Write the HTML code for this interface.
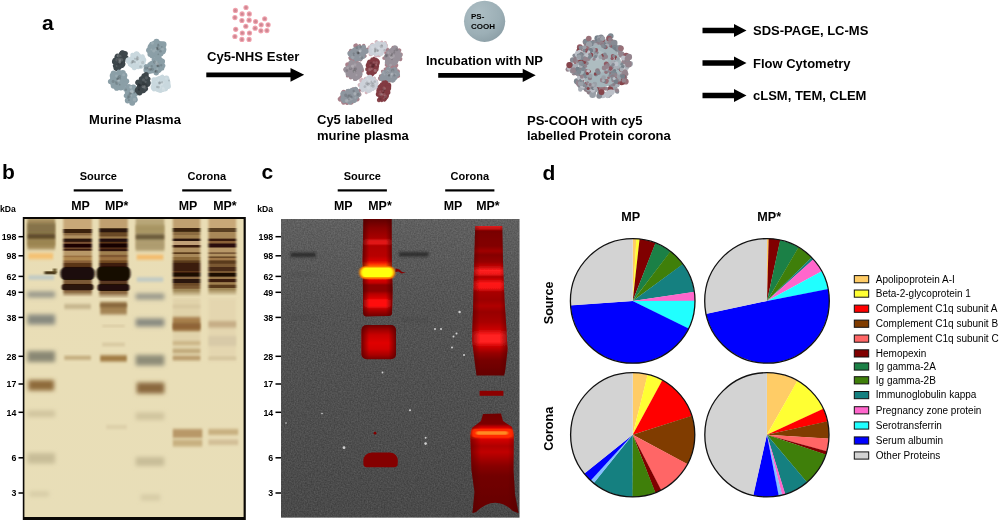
<!DOCTYPE html>
<html lang="en"><head><meta charset="utf-8"><title>Figure</title>
<style>
html,body{margin:0;padding:0;background:#fff;}
svg{display:block;}
text{font-family:"Liberation Sans", Arial, sans-serif;fill:#000;}
</style></head><body>
<svg width="1000" height="520" viewBox="0 0 1000 520">

<defs>
<linearGradient id="lg1" gradientUnits="userSpaceOnUse" x1="0" y1="218" x2="0" y2="297"><stop offset="0.0000" stop-color="#c8a878" stop-opacity="1"/><stop offset="0.1335" stop-color="#c8a878" stop-opacity="1"/><stop offset="0.1449" stop-color="#3a2010" stop-opacity="1"/><stop offset="0.1842" stop-color="#3a2010" stop-opacity="1"/><stop offset="0.1956" stop-color="#8a6840" stop-opacity="1"/><stop offset="0.2146" stop-color="#8a6840" stop-opacity="1"/><stop offset="0.2259" stop-color="#b09060" stop-opacity="1"/><stop offset="0.2551" stop-color="#b09060" stop-opacity="1"/><stop offset="0.2665" stop-color="#2c1408" stop-opacity="1"/><stop offset="0.2956" stop-color="#2c1408" stop-opacity="1"/><stop offset="0.3070" stop-color="#7a5030" stop-opacity="1"/><stop offset="0.3209" stop-color="#7a5030" stop-opacity="1"/><stop offset="0.3323" stop-color="#1a0606" stop-opacity="1"/><stop offset="0.3677" stop-color="#1a0606" stop-opacity="1"/><stop offset="0.3791" stop-color="#7a5030" stop-opacity="1"/><stop offset="0.3842" stop-color="#7a5030" stop-opacity="1"/><stop offset="0.3956" stop-color="#3a1c0c" stop-opacity="1"/><stop offset="0.4082" stop-color="#3a1c0c" stop-opacity="1"/><stop offset="0.4196" stop-color="#b89868" stop-opacity="1"/><stop offset="0.4703" stop-color="#b89868" stop-opacity="1"/><stop offset="0.4816" stop-color="#9a7040" stop-opacity="1"/><stop offset="0.4905" stop-color="#9a7040" stop-opacity="1"/><stop offset="0.5019" stop-color="#b08850" stop-opacity="1"/><stop offset="0.5310" stop-color="#b08850" stop-opacity="1"/><stop offset="0.5424" stop-color="#8a6038" stop-opacity="1"/><stop offset="0.5627" stop-color="#8a6038" stop-opacity="1"/><stop offset="0.5741" stop-color="#5a3418" stop-opacity="1"/><stop offset="0.6133" stop-color="#5a3418" stop-opacity="1"/><stop offset="0.6247" stop-color="#2c1208" stop-opacity="1"/><stop offset="0.6639" stop-color="#2c1208" stop-opacity="1"/><stop offset="0.6753" stop-color="#1a0a08" stop-opacity="1"/><stop offset="0.7766" stop-color="#1a0a08" stop-opacity="1"/><stop offset="0.7880" stop-color="#7a5834" stop-opacity="1"/><stop offset="0.8285" stop-color="#7a5834" stop-opacity="1"/><stop offset="0.8399" stop-color="#2c1408" stop-opacity="1"/><stop offset="0.9095" stop-color="#2c1408" stop-opacity="1"/><stop offset="0.9209" stop-color="#8a6840" stop-opacity="1"/><stop offset="0.9373" stop-color="#8a6840" stop-opacity="1"/><stop offset="1.0000" stop-color="#8a6840" stop-opacity="0"/></linearGradient>
<linearGradient id="lg2" gradientUnits="userSpaceOnUse" x1="0" y1="218" x2="0" y2="298.5"><stop offset="0.0000" stop-color="#c0a070" stop-opacity="1"/><stop offset="0.1224" stop-color="#c0a070" stop-opacity="1"/><stop offset="0.1335" stop-color="#2a1808" stop-opacity="1"/><stop offset="0.1720" stop-color="#2a1808" stop-opacity="1"/><stop offset="0.1832" stop-color="#6a4828" stop-opacity="1"/><stop offset="0.2230" stop-color="#6a4828" stop-opacity="1"/><stop offset="0.2342" stop-color="#9a7848" stop-opacity="1"/><stop offset="0.2503" stop-color="#9a7848" stop-opacity="1"/><stop offset="0.2615" stop-color="#20100a" stop-opacity="1"/><stop offset="0.2901" stop-color="#20100a" stop-opacity="1"/><stop offset="0.3012" stop-color="#5a3018" stop-opacity="1"/><stop offset="0.3112" stop-color="#5a3018" stop-opacity="1"/><stop offset="0.3224" stop-color="#180606" stop-opacity="1"/><stop offset="0.3609" stop-color="#180606" stop-opacity="1"/><stop offset="0.3720" stop-color="#5a3018" stop-opacity="1"/><stop offset="0.3770" stop-color="#5a3018" stop-opacity="1"/><stop offset="0.3882" stop-color="#30140a" stop-opacity="1"/><stop offset="0.4068" stop-color="#30140a" stop-opacity="1"/><stop offset="0.4180" stop-color="#a08050" stop-opacity="1"/><stop offset="0.4516" stop-color="#a08050" stop-opacity="1"/><stop offset="0.4627" stop-color="#805830" stop-opacity="1"/><stop offset="0.4814" stop-color="#805830" stop-opacity="1"/><stop offset="0.4925" stop-color="#9a7040" stop-opacity="1"/><stop offset="0.5211" stop-color="#9a7040" stop-opacity="1"/><stop offset="0.5323" stop-color="#704820" stop-opacity="1"/><stop offset="0.5522" stop-color="#704820" stop-opacity="1"/><stop offset="0.5634" stop-color="#3e1e0e" stop-opacity="1"/><stop offset="0.6019" stop-color="#3e1e0e" stop-opacity="1"/><stop offset="0.6130" stop-color="#160806" stop-opacity="1"/><stop offset="0.7720" stop-color="#160806" stop-opacity="1"/><stop offset="0.7832" stop-color="#5a3820" stop-opacity="1"/><stop offset="0.8130" stop-color="#5a3820" stop-opacity="1"/><stop offset="0.8242" stop-color="#201008" stop-opacity="1"/><stop offset="0.9012" stop-color="#201008" stop-opacity="1"/><stop offset="0.9124" stop-color="#8a6840" stop-opacity="1"/><stop offset="0.9323" stop-color="#8a6840" stop-opacity="1"/><stop offset="1.0000" stop-color="#8a6840" stop-opacity="0"/></linearGradient>
<linearGradient id="lg4" gradientUnits="userSpaceOnUse" x1="0" y1="218" x2="0" y2="297"><stop offset="0.0000" stop-color="#c0a070" stop-opacity="1"/><stop offset="0.1209" stop-color="#c0a070" stop-opacity="1"/><stop offset="0.1323" stop-color="#3a2410" stop-opacity="1"/><stop offset="0.1690" stop-color="#3a2410" stop-opacity="1"/><stop offset="0.1804" stop-color="#8a6a40" stop-opacity="1"/><stop offset="0.2095" stop-color="#8a6a40" stop-opacity="1"/><stop offset="0.2209" stop-color="#a08050" stop-opacity="1"/><stop offset="0.2551" stop-color="#a08050" stop-opacity="1"/><stop offset="0.2665" stop-color="#2a1208" stop-opacity="1"/><stop offset="0.2854" stop-color="#2a1208" stop-opacity="1"/><stop offset="0.2968" stop-color="#c0a078" stop-opacity="1"/><stop offset="0.3361" stop-color="#c0a078" stop-opacity="1"/><stop offset="0.3475" stop-color="#3a1c0c" stop-opacity="1"/><stop offset="0.3677" stop-color="#3a1c0c" stop-opacity="1"/><stop offset="0.3791" stop-color="#b09060" stop-opacity="1"/><stop offset="0.4285" stop-color="#b09060" stop-opacity="1"/><stop offset="0.4399" stop-color="#5a3a1c" stop-opacity="1"/><stop offset="0.4500" stop-color="#5a3a1c" stop-opacity="1"/><stop offset="0.4614" stop-color="#a88858" stop-opacity="1"/><stop offset="0.4880" stop-color="#a88858" stop-opacity="1"/><stop offset="0.4994" stop-color="#8a6838" stop-opacity="1"/><stop offset="0.5310" stop-color="#8a6838" stop-opacity="1"/><stop offset="0.5424" stop-color="#5a3a1c" stop-opacity="1"/><stop offset="0.5614" stop-color="#5a3a1c" stop-opacity="1"/><stop offset="0.5728" stop-color="#3a1e0c" stop-opacity="1"/><stop offset="0.6652" stop-color="#3a1e0c" stop-opacity="1"/><stop offset="0.6766" stop-color="#5a3418" stop-opacity="1"/><stop offset="0.6842" stop-color="#5a3418" stop-opacity="1"/><stop offset="0.6956" stop-color="#1e0a06" stop-opacity="1"/><stop offset="0.7361" stop-color="#1e0a06" stop-opacity="1"/><stop offset="0.7475" stop-color="#8a6840" stop-opacity="1"/><stop offset="0.7665" stop-color="#8a6840" stop-opacity="1"/><stop offset="0.7778" stop-color="#2c1408" stop-opacity="1"/><stop offset="0.8171" stop-color="#2c1408" stop-opacity="1"/><stop offset="0.8285" stop-color="#6a4828" stop-opacity="1"/><stop offset="0.8487" stop-color="#6a4828" stop-opacity="1"/><stop offset="0.8601" stop-color="#7a5830" stop-opacity="1"/><stop offset="0.8892" stop-color="#7a5830" stop-opacity="1"/><stop offset="0.9006" stop-color="#a08858" stop-opacity="1"/><stop offset="0.9184" stop-color="#a08858" stop-opacity="1"/><stop offset="1.0000" stop-color="#a08858" stop-opacity="0"/></linearGradient>
<linearGradient id="lg5" gradientUnits="userSpaceOnUse" x1="0" y1="218" x2="0" y2="296"><stop offset="0.0000" stop-color="#c8a878" stop-opacity="1"/><stop offset="0.1224" stop-color="#c8a878" stop-opacity="1"/><stop offset="0.1340" stop-color="#5a4020" stop-opacity="1"/><stop offset="0.1737" stop-color="#5a4020" stop-opacity="1"/><stop offset="0.1853" stop-color="#a88858" stop-opacity="1"/><stop offset="0.2583" stop-color="#a88858" stop-opacity="1"/><stop offset="0.2699" stop-color="#3a1c0c" stop-opacity="1"/><stop offset="0.2891" stop-color="#3a1c0c" stop-opacity="1"/><stop offset="0.3006" stop-color="#8a6038" stop-opacity="1"/><stop offset="0.3212" stop-color="#8a6038" stop-opacity="1"/><stop offset="0.3327" stop-color="#2a0e08" stop-opacity="1"/><stop offset="0.3724" stop-color="#2a0e08" stop-opacity="1"/><stop offset="0.3840" stop-color="#b89868" stop-opacity="1"/><stop offset="0.4340" stop-color="#b89868" stop-opacity="1"/><stop offset="0.4455" stop-color="#7a5a38" stop-opacity="1"/><stop offset="0.4558" stop-color="#7a5a38" stop-opacity="1"/><stop offset="0.4673" stop-color="#b09060" stop-opacity="1"/><stop offset="0.4865" stop-color="#b09060" stop-opacity="1"/><stop offset="0.4981" stop-color="#6a4a28" stop-opacity="1"/><stop offset="0.5071" stop-color="#6a4a28" stop-opacity="1"/><stop offset="0.5186" stop-color="#a07848" stop-opacity="1"/><stop offset="0.5378" stop-color="#a07848" stop-opacity="1"/><stop offset="0.5494" stop-color="#5a3a1c" stop-opacity="1"/><stop offset="0.5801" stop-color="#5a3a1c" stop-opacity="1"/><stop offset="0.5917" stop-color="#7a5830" stop-opacity="1"/><stop offset="0.6224" stop-color="#7a5830" stop-opacity="1"/><stop offset="0.6340" stop-color="#4a2a14" stop-opacity="1"/><stop offset="0.6737" stop-color="#4a2a14" stop-opacity="1"/><stop offset="0.6853" stop-color="#7a5830" stop-opacity="1"/><stop offset="0.6981" stop-color="#7a5830" stop-opacity="1"/><stop offset="0.7096" stop-color="#1e0a06" stop-opacity="1"/><stop offset="0.7455" stop-color="#1e0a06" stop-opacity="1"/><stop offset="0.7571" stop-color="#9a7848" stop-opacity="1"/><stop offset="0.7763" stop-color="#9a7848" stop-opacity="1"/><stop offset="0.7878" stop-color="#3a1c0c" stop-opacity="1"/><stop offset="0.8173" stop-color="#3a1c0c" stop-opacity="1"/><stop offset="0.8288" stop-color="#a08050" stop-opacity="1"/><stop offset="0.8494" stop-color="#a08050" stop-opacity="1"/><stop offset="0.8609" stop-color="#5a3a1c" stop-opacity="1"/><stop offset="0.8917" stop-color="#5a3a1c" stop-opacity="1"/><stop offset="0.9032" stop-color="#a08858" stop-opacity="1"/><stop offset="0.9173" stop-color="#a08858" stop-opacity="1"/><stop offset="1.0000" stop-color="#a08858" stop-opacity="0"/></linearGradient>
<filter id="glane" x="-20%" y="-5%" width="140%" height="110%"><feGaussianBlur stdDeviation="1.2 0.75"/></filter>
<filter id="pb" x="-5%" y="-5%" width="110%" height="110%"><feGaussianBlur stdDeviation="0.5"/></filter>
<filter id="pb2" x="-5%" y="-5%" width="110%" height="110%"><feGaussianBlur stdDeviation="0.7"/></filter>
<filter id="gb" x="-20%" y="-50%" width="140%" height="200%"><feGaussianBlur stdDeviation="1.3 1.5"/></filter>
<filter id="glad" x="-30%" y="-80%" width="160%" height="260%"><feGaussianBlur stdDeviation="2.2 2.2"/></filter>
<filter id="sp" x="-50%" y="-50%" width="200%" height="200%"><feGaussianBlur stdDeviation="0.45"/></filter>
<filter id="gbs" x="-20%" y="-60%" width="140%" height="220%"><feGaussianBlur stdDeviation="0.9 0.7"/></filter>
<filter id="gbr" x="-5%" y="-5%" width="110%" height="110%"><feGaussianBlur stdDeviation="0.5"/></filter>
<filter id="noise" x="0" y="0" width="100%" height="100%" color-interpolation-filters="sRGB"><feTurbulence type="fractalNoise" baseFrequency="0.7" numOctaves="2" seed="3" result="n"/><feColorMatrix type="matrix" values="1 0 0 0 0  1 0 0 0 0  1 0 0 0 0  0 0 0 0 0.15"/></filter>
<radialGradient id="sph" cx="0.36" cy="0.3" r="0.85"><stop offset="0" stop-color="#adbec4"/><stop offset="0.6" stop-color="#9cafb6"/><stop offset="1" stop-color="#8699a1"/></radialGradient>
<linearGradient id="gelbg" x1="0" y1="0" x2="0" y2="1"><stop offset="0" stop-color="#e9ddb5"/><stop offset="0.5" stop-color="#e9deb7"/><stop offset="1" stop-color="#e8deb8"/></linearGradient>
<linearGradient id="gelcbg" x1="0" y1="0" x2="0" y2="1"><stop offset="0" stop-color="#5a5a5a"/><stop offset="0.3" stop-color="#4c4c4c"/><stop offset="1" stop-color="#404040"/></linearGradient>
<linearGradient id="vig" x1="0" y1="0" x2="1" y2="0"><stop offset="0" stop-color="#500000" stop-opacity="0.75"/><stop offset="0.22" stop-color="#500000" stop-opacity="0"/><stop offset="0.78" stop-color="#500000" stop-opacity="0"/><stop offset="1" stop-color="#500000" stop-opacity="0.75"/></linearGradient>
<clipPath id="clipb"><rect x="23.5" y="218" width="220.5" height="299.5"/></clipPath>
<clipPath id="clipc"><rect x="281" y="219" width="238.7" height="298.8"/></clipPath>
<linearGradient id="lane2a" gradientUnits="userSpaceOnUse" x1="0" y1="219" x2="0" y2="316.5"><stop offset="0.0000" stop-color="#600000"/><stop offset="0.0923" stop-color="#8a0000"/><stop offset="0.1949" stop-color="#a80000"/><stop offset="0.2256" stop-color="#e01818"/><stop offset="0.2513" stop-color="#e01818"/><stop offset="0.2769" stop-color="#b00000"/><stop offset="0.3795" stop-color="#b80000"/><stop offset="0.4308" stop-color="#d80000"/><stop offset="0.4615" stop-color="#ff3000"/><stop offset="0.4821" stop-color="#ff6000"/><stop offset="0.6154" stop-color="#ff4000"/><stop offset="0.6256" stop-color="#d80000"/><stop offset="0.6564" stop-color="#c00000"/><stop offset="0.6769" stop-color="#8c0000"/><stop offset="0.7385" stop-color="#8c0000"/><stop offset="0.7692" stop-color="#b80000"/><stop offset="0.8103" stop-color="#d80000"/><stop offset="0.8359" stop-color="#ff1010"/><stop offset="0.8923" stop-color="#ff1010"/><stop offset="0.9231" stop-color="#b80000"/><stop offset="0.9641" stop-color="#900000"/><stop offset="1.0000" stop-color="#700000"/></linearGradient>
<linearGradient id="lane2b" gradientUnits="userSpaceOnUse" x1="0" y1="325" x2="0" y2="359.2"><stop offset="0.0000" stop-color="#6c0000"/><stop offset="0.1170" stop-color="#980000"/><stop offset="0.2924" stop-color="#c80000"/><stop offset="0.5263" stop-color="#e00404"/><stop offset="0.7018" stop-color="#d40000"/><stop offset="0.8772" stop-color="#a80000"/><stop offset="1.0000" stop-color="#780000"/></linearGradient>
<linearGradient id="lane4a" gradientUnits="userSpaceOnUse" x1="0" y1="226" x2="0" y2="375.5"><stop offset="0.0000" stop-color="#e02020"/><stop offset="0.0201" stop-color="#c01010"/><stop offset="0.0334" stop-color="#780000"/><stop offset="0.0936" stop-color="#800000"/><stop offset="0.1338" stop-color="#820000"/><stop offset="0.1672" stop-color="#a00000"/><stop offset="0.1940" stop-color="#840000"/><stop offset="0.2408" stop-color="#960000"/><stop offset="0.2742" stop-color="#c80808"/><stop offset="0.2977" stop-color="#ff2020"/><stop offset="0.3211" stop-color="#f01818"/><stop offset="0.3411" stop-color="#b00000"/><stop offset="0.3645" stop-color="#d80808"/><stop offset="0.3846" stop-color="#ff1818"/><stop offset="0.4147" stop-color="#f81414"/><stop offset="0.4415" stop-color="#a80000"/><stop offset="0.4950" stop-color="#9c0000"/><stop offset="0.5351" stop-color="#b00000"/><stop offset="0.5753" stop-color="#980000"/><stop offset="0.6421" stop-color="#a80000"/><stop offset="0.6957" stop-color="#cc0404"/><stop offset="0.7291" stop-color="#ff2020"/><stop offset="0.7759" stop-color="#ff2020"/><stop offset="0.8094" stop-color="#c80000"/><stop offset="0.8495" stop-color="#980000"/><stop offset="0.8963" stop-color="#780000"/><stop offset="1.0000" stop-color="#640000"/></linearGradient>
<linearGradient id="lane4b" gradientUnits="userSpaceOnUse" x1="0" y1="413.5" x2="0" y2="513"><stop offset="0.0000" stop-color="#700000"/><stop offset="0.1055" stop-color="#7c0000"/><stop offset="0.1357" stop-color="#c80000"/><stop offset="0.1658" stop-color="#ff2000"/><stop offset="0.2362" stop-color="#ff2000"/><stop offset="0.2663" stop-color="#d00000"/><stop offset="0.3266" stop-color="#b00000"/><stop offset="0.3869" stop-color="#c00000"/><stop offset="0.4472" stop-color="#a80000"/><stop offset="0.5276" stop-color="#880000"/><stop offset="0.6281" stop-color="#720000"/><stop offset="1.0000" stop-color="#660000"/></linearGradient>
</defs>

<rect width="1000" height="520" fill="#fff"/>
<text x="42" y="29.5" font-size="21" font-weight="bold" text-anchor="start" >a</text>
<g filter="url(#pb)">
<g transform="translate(156.5 49) rotate(0)">
<ellipse cx="0" cy="0" rx="9.2" ry="8.8" fill="#8b9fa7"/>
<circle cx="6.8" cy="0.5" r="3.1" fill="#8b9fa7"/>
<circle cx="6.4" cy="2.3" r="2.9" fill="#8b9fa7"/>
<circle cx="4.2" cy="5.3" r="2.1" fill="#8b9fa7"/>
<circle cx="0.4" cy="7.4" r="2.4" fill="#8b9fa7"/>
<circle cx="-4.3" cy="6.8" r="2.6" fill="#8b9fa7"/>
<circle cx="-6.2" cy="5.1" r="2.9" fill="#8b9fa7"/>
<circle cx="-7.6" cy="1.2" r="2.8" fill="#8b9fa7"/>
<circle cx="-6.1" cy="-3.2" r="2.1" fill="#8b9fa7"/>
<circle cx="-4.9" cy="-5.2" r="2.1" fill="#8b9fa7"/>
<circle cx="-0.0" cy="-7.3" r="3.0" fill="#8b9fa7"/>
<circle cx="4.7" cy="-5.4" r="2.3" fill="#8b9fa7"/>
<circle cx="6.8" cy="-4.5" r="3.2" fill="#8b9fa7"/>
<circle cx="1.8" cy="-3.3" r="1.3" fill="#000" opacity="0.13"/>
<circle cx="1.7" cy="-4.4" r="1.0" fill="#000" opacity="0.13"/>
<circle cx="2.2" cy="-0.9" r="1.3" fill="#fff" opacity="0.13"/>
<circle cx="-0.4" cy="0.3" r="1.6" fill="#fff" opacity="0.13"/>
<circle cx="5.3" cy="-2.2" r="0.9" fill="#000" opacity="0.13"/>
<circle cx="0.5" cy="-1.0" r="1.3" fill="#000" opacity="0.13"/>
<circle cx="-2.8" cy="2.0" r="1.6" fill="#fff" opacity="0.13"/>
<circle cx="-4.1" cy="-5.9" r="1.7" fill="#fff" opacity="0.13"/>
<circle cx="1.8" cy="5.4" r="0.9" fill="#000" opacity="0.13"/>
<circle cx="0.4" cy="0.2" r="1.0" fill="#000" opacity="0.13"/>
<circle cx="1.3" cy="0.5" r="1.1" fill="#000" opacity="0.13"/>
<circle cx="2.0" cy="-0.3" r="1.6" fill="#000" opacity="0.13"/>
<circle cx="6.0" cy="0.2" r="1.4" fill="#fff" opacity="0.13"/>
<circle cx="0.8" cy="-1.2" r="1.1" fill="#000" opacity="0.13"/>
<circle cx="-5.1" cy="0.4" r="1.0" fill="#fff" opacity="0.13"/>
<circle cx="4.0" cy="2.3" r="1.3" fill="#000" opacity="0.13"/>
</g>
<g transform="translate(157.5 65) rotate(10)">
<ellipse cx="0" cy="0" rx="6.6" ry="8.4" fill="#8b9fa7"/>
<circle cx="5.5" cy="-0.1" r="2.5" fill="#8b9fa7"/>
<circle cx="5.1" cy="2.4" r="2.3" fill="#8b9fa7"/>
<circle cx="2.4" cy="5.5" r="2.0" fill="#8b9fa7"/>
<circle cx="0.2" cy="7.7" r="2.8" fill="#8b9fa7"/>
<circle cx="-3.7" cy="5.9" r="2.7" fill="#8b9fa7"/>
<circle cx="-5.1" cy="4.3" r="2.8" fill="#8b9fa7"/>
<circle cx="-6.2" cy="-0.5" r="2.5" fill="#8b9fa7"/>
<circle cx="-4.6" cy="-4.5" r="2.2" fill="#8b9fa7"/>
<circle cx="-1.7" cy="-6.0" r="3.0" fill="#8b9fa7"/>
<circle cx="0.7" cy="-8.1" r="2.0" fill="#8b9fa7"/>
<circle cx="2.0" cy="-5.8" r="2.2" fill="#8b9fa7"/>
<circle cx="3.8" cy="-4.1" r="3.1" fill="#8b9fa7"/>
<circle cx="3.7" cy="-0.4" r="1.2" fill="#000" opacity="0.13"/>
<circle cx="0.2" cy="-1.1" r="1.5" fill="#000" opacity="0.13"/>
<circle cx="-2.2" cy="-2.5" r="1.6" fill="#fff" opacity="0.13"/>
<circle cx="-3.3" cy="-2.3" r="1.7" fill="#000" opacity="0.13"/>
<circle cx="-0.6" cy="0.6" r="1.1" fill="#fff" opacity="0.13"/>
<circle cx="-1.2" cy="6.3" r="1.5" fill="#000" opacity="0.13"/>
<circle cx="-1.6" cy="6.1" r="1.5" fill="#000" opacity="0.13"/>
<circle cx="0.1" cy="-0.4" r="1.3" fill="#fff" opacity="0.13"/>
<circle cx="1.3" cy="0.7" r="1.4" fill="#000" opacity="0.13"/>
<circle cx="-0.6" cy="0.8" r="1.1" fill="#000" opacity="0.13"/>
<circle cx="0.2" cy="4.1" r="1.4" fill="#fff" opacity="0.13"/>
<circle cx="0.1" cy="6.6" r="1.8" fill="#000" opacity="0.13"/>
<circle cx="0.3" cy="1.1" r="1.0" fill="#000" opacity="0.13"/>
<circle cx="0.8" cy="-1.3" r="1.0" fill="#fff" opacity="0.13"/>
<circle cx="0.3" cy="0.8" r="1.2" fill="#000" opacity="0.13"/>
<circle cx="-1.1" cy="-1.6" r="1.7" fill="#fff" opacity="0.13"/>
</g>
<g transform="translate(149.5 68) rotate(0)">
<ellipse cx="0" cy="0" rx="4.4" ry="4.0" fill="#8b9fa7"/>
<circle cx="4.1" cy="-0.2" r="3.0" fill="#8b9fa7"/>
<circle cx="2.2" cy="2.4" r="3.0" fill="#8b9fa7"/>
<circle cx="-0.1" cy="3.2" r="2.7" fill="#8b9fa7"/>
<circle cx="-2.8" cy="2.0" r="3.3" fill="#8b9fa7"/>
<circle cx="-3.7" cy="-1.5" r="2.4" fill="#8b9fa7"/>
<circle cx="0.0" cy="-3.5" r="2.2" fill="#8b9fa7"/>
<circle cx="1.9" cy="-2.6" r="2.0" fill="#8b9fa7"/>
<circle cx="0.7" cy="1.0" r="1.6" fill="#000" opacity="0.13"/>
<circle cx="-1.2" cy="-0.1" r="1.3" fill="#000" opacity="0.13"/>
<circle cx="2.7" cy="1.3" r="1.7" fill="#000" opacity="0.13"/>
<circle cx="-0.0" cy="-0.3" r="1.2" fill="#fff" opacity="0.13"/>
<circle cx="0.2" cy="1.4" r="1.6" fill="#000" opacity="0.13"/>
<circle cx="2.2" cy="-1.9" r="1.2" fill="#000" opacity="0.13"/>
<circle cx="-0.2" cy="0.1" r="1.0" fill="#fff" opacity="0.13"/>
<circle cx="-3.5" cy="0.2" r="1.6" fill="#000" opacity="0.13"/>
<circle cx="-0.1" cy="1.8" r="1.1" fill="#fff" opacity="0.13"/>
<circle cx="-0.0" cy="0.6" r="1.6" fill="#fff" opacity="0.13"/>
<circle cx="-0.0" cy="1.3" r="1.1" fill="#000" opacity="0.13"/>
</g>
<g transform="translate(120 61) rotate(22)">
<ellipse cx="0" cy="0" rx="5.3" ry="10.6" fill="#3d464b"/>
<circle cx="4.1" cy="1.6" r="2.3" fill="#3d464b"/>
<circle cx="3.6" cy="3.2" r="2.5" fill="#3d464b"/>
<circle cx="1.5" cy="8.6" r="2.2" fill="#3d464b"/>
<circle cx="-0.5" cy="7.7" r="3.1" fill="#3d464b"/>
<circle cx="-2.8" cy="6.5" r="2.1" fill="#3d464b"/>
<circle cx="-4.6" cy="3.3" r="2.3" fill="#3d464b"/>
<circle cx="-4.5" cy="1.9" r="3.1" fill="#3d464b"/>
<circle cx="-3.7" cy="-2.9" r="3.2" fill="#3d464b"/>
<circle cx="-1.1" cy="-7.9" r="2.6" fill="#3d464b"/>
<circle cx="-0.3" cy="-8.2" r="3.0" fill="#3d464b"/>
<circle cx="2.0" cy="-8.7" r="2.7" fill="#3d464b"/>
<circle cx="4.2" cy="-5.5" r="2.4" fill="#3d464b"/>
<circle cx="1.8" cy="1.5" r="1.4" fill="#000" opacity="0.13"/>
<circle cx="-2.1" cy="-0.9" r="1.1" fill="#fff" opacity="0.13"/>
<circle cx="-2.2" cy="-0.6" r="1.1" fill="#000" opacity="0.13"/>
<circle cx="-0.8" cy="-1.3" r="1.5" fill="#fff" opacity="0.13"/>
<circle cx="-3.3" cy="-0.0" r="1.6" fill="#fff" opacity="0.13"/>
<circle cx="-0.6" cy="-0.3" r="1.2" fill="#fff" opacity="0.13"/>
<circle cx="-2.6" cy="-0.1" r="1.1" fill="#000" opacity="0.13"/>
<circle cx="-0.2" cy="3.5" r="1.1" fill="#000" opacity="0.13"/>
<circle cx="1.1" cy="-1.8" r="1.6" fill="#fff" opacity="0.13"/>
<circle cx="0.0" cy="0.9" r="1.6" fill="#fff" opacity="0.13"/>
<circle cx="-2.4" cy="-4.1" r="1.4" fill="#000" opacity="0.13"/>
<circle cx="-4.2" cy="-4.0" r="1.2" fill="#fff" opacity="0.13"/>
<circle cx="-1.3" cy="-4.7" r="1.1" fill="#fff" opacity="0.13"/>
<circle cx="-3.1" cy="-4.2" r="1.8" fill="#fff" opacity="0.13"/>
<circle cx="-1.3" cy="5.9" r="0.9" fill="#fff" opacity="0.13"/>
<circle cx="0.4" cy="1.2" r="1.3" fill="#fff" opacity="0.13"/>
</g>
<g transform="translate(136.5 61.5) rotate(-10)">
<ellipse cx="0" cy="0" rx="9.2" ry="7.5" fill="#c9d8de"/>
<circle cx="7.0" cy="-0.6" r="3.0" fill="#c9d8de"/>
<circle cx="6.3" cy="2.9" r="2.3" fill="#c9d8de"/>
<circle cx="3.8" cy="5.8" r="2.3" fill="#c9d8de"/>
<circle cx="0.8" cy="5.3" r="2.7" fill="#c9d8de"/>
<circle cx="-3.4" cy="5.8" r="2.4" fill="#c9d8de"/>
<circle cx="-7.1" cy="1.6" r="2.0" fill="#c9d8de"/>
<circle cx="-7.8" cy="-1.3" r="2.2" fill="#c9d8de"/>
<circle cx="-7.5" cy="-2.4" r="3.2" fill="#c9d8de"/>
<circle cx="-2.5" cy="-6.7" r="2.6" fill="#c9d8de"/>
<circle cx="1.4" cy="-7.0" r="3.1" fill="#c9d8de"/>
<circle cx="3.3" cy="-5.5" r="2.2" fill="#c9d8de"/>
<circle cx="6.8" cy="-3.8" r="2.3" fill="#c9d8de"/>
<circle cx="-1.6" cy="0.3" r="1.1" fill="#000" opacity="0.13"/>
<circle cx="-3.8" cy="-0.7" r="1.5" fill="#000" opacity="0.13"/>
<circle cx="0.1" cy="0.9" r="1.4" fill="#fff" opacity="0.13"/>
<circle cx="3.1" cy="3.0" r="1.5" fill="#fff" opacity="0.13"/>
<circle cx="2.7" cy="-0.0" r="1.1" fill="#fff" opacity="0.13"/>
<circle cx="2.1" cy="-3.0" r="1.2" fill="#fff" opacity="0.13"/>
<circle cx="-3.1" cy="-0.6" r="1.4" fill="#000" opacity="0.13"/>
<circle cx="1.6" cy="-4.5" r="1.0" fill="#000" opacity="0.13"/>
<circle cx="0.8" cy="-2.1" r="1.5" fill="#000" opacity="0.13"/>
<circle cx="1.8" cy="-2.8" r="1.7" fill="#000" opacity="0.13"/>
<circle cx="5.8" cy="2.0" r="1.6" fill="#000" opacity="0.13"/>
<circle cx="5.6" cy="1.5" r="1.6" fill="#fff" opacity="0.13"/>
<circle cx="3.5" cy="-2.2" r="1.2" fill="#fff" opacity="0.13"/>
<circle cx="-4.9" cy="0.5" r="1.3" fill="#000" opacity="0.13"/>
<circle cx="3.1" cy="5.8" r="1.4" fill="#000" opacity="0.13"/>
<circle cx="-1.1" cy="-3.0" r="0.9" fill="#000" opacity="0.13"/>
</g>
<g transform="translate(118.5 80.5) rotate(0)">
<ellipse cx="0" cy="0" rx="8.8" ry="9.2" fill="#8b9fa7"/>
<circle cx="7.9" cy="0.8" r="2.8" fill="#8b9fa7"/>
<circle cx="6.5" cy="3.5" r="2.8" fill="#8b9fa7"/>
<circle cx="2.4" cy="6.7" r="3.2" fill="#8b9fa7"/>
<circle cx="-1.8" cy="7.7" r="2.6" fill="#8b9fa7"/>
<circle cx="-4.6" cy="5.1" r="3.2" fill="#8b9fa7"/>
<circle cx="-6.4" cy="2.2" r="2.3" fill="#8b9fa7"/>
<circle cx="-8.0" cy="1.0" r="2.6" fill="#8b9fa7"/>
<circle cx="-5.8" cy="-4.7" r="3.0" fill="#8b9fa7"/>
<circle cx="-4.9" cy="-7.0" r="2.9" fill="#8b9fa7"/>
<circle cx="0.3" cy="-8.7" r="2.3" fill="#8b9fa7"/>
<circle cx="4.2" cy="-7.5" r="3.1" fill="#8b9fa7"/>
<circle cx="5.9" cy="-4.9" r="3.0" fill="#8b9fa7"/>
<circle cx="-1.5" cy="1.7" r="1.1" fill="#fff" opacity="0.13"/>
<circle cx="-1.0" cy="-1.5" r="1.1" fill="#000" opacity="0.13"/>
<circle cx="1.1" cy="-4.3" r="1.5" fill="#000" opacity="0.13"/>
<circle cx="-5.3" cy="0.9" r="1.6" fill="#000" opacity="0.13"/>
<circle cx="-2.2" cy="1.6" r="1.3" fill="#000" opacity="0.13"/>
<circle cx="-0.1" cy="-1.6" r="0.9" fill="#000" opacity="0.13"/>
<circle cx="1.2" cy="-2.0" r="1.4" fill="#000" opacity="0.13"/>
<circle cx="-0.5" cy="-0.0" r="1.1" fill="#fff" opacity="0.13"/>
<circle cx="-1.3" cy="-1.6" r="1.1" fill="#000" opacity="0.13"/>
<circle cx="0.4" cy="0.4" r="1.1" fill="#fff" opacity="0.13"/>
<circle cx="5.1" cy="-5.8" r="1.5" fill="#fff" opacity="0.13"/>
<circle cx="1.2" cy="4.2" r="0.9" fill="#000" opacity="0.13"/>
<circle cx="-2.0" cy="-4.6" r="1.4" fill="#fff" opacity="0.13"/>
<circle cx="-0.5" cy="-3.2" r="1.0" fill="#000" opacity="0.13"/>
<circle cx="0.8" cy="-0.7" r="1.0" fill="#fff" opacity="0.13"/>
<circle cx="-1.7" cy="2.9" r="1.5" fill="#000" opacity="0.13"/>
</g>
<g transform="translate(130.5 94) rotate(-5)">
<ellipse cx="0" cy="0" rx="5.7" ry="9.2" fill="#8b9fa7"/>
<circle cx="4.3" cy="0.5" r="3.0" fill="#8b9fa7"/>
<circle cx="4.1" cy="5.5" r="2.7" fill="#8b9fa7"/>
<circle cx="3.6" cy="6.3" r="2.8" fill="#8b9fa7"/>
<circle cx="0.9" cy="8.9" r="3.0" fill="#8b9fa7"/>
<circle cx="-3.3" cy="6.3" r="2.9" fill="#8b9fa7"/>
<circle cx="-4.0" cy="5.9" r="2.2" fill="#8b9fa7"/>
<circle cx="-4.7" cy="1.3" r="2.3" fill="#8b9fa7"/>
<circle cx="-4.4" cy="-5.2" r="2.5" fill="#8b9fa7"/>
<circle cx="-1.7" cy="-6.7" r="3.1" fill="#8b9fa7"/>
<circle cx="-1.0" cy="-7.5" r="2.4" fill="#8b9fa7"/>
<circle cx="3.5" cy="-6.3" r="2.9" fill="#8b9fa7"/>
<circle cx="3.8" cy="-3.1" r="2.8" fill="#8b9fa7"/>
<circle cx="-0.4" cy="-0.7" r="1.4" fill="#000" opacity="0.13"/>
<circle cx="0.8" cy="-1.5" r="1.0" fill="#fff" opacity="0.13"/>
<circle cx="-1.6" cy="1.8" r="1.8" fill="#000" opacity="0.13"/>
<circle cx="2.7" cy="-1.4" r="1.1" fill="#fff" opacity="0.13"/>
<circle cx="3.6" cy="-0.8" r="0.9" fill="#000" opacity="0.13"/>
<circle cx="0.5" cy="-6.8" r="1.6" fill="#fff" opacity="0.13"/>
<circle cx="0.5" cy="1.5" r="1.2" fill="#fff" opacity="0.13"/>
<circle cx="-2.1" cy="5.9" r="1.0" fill="#000" opacity="0.13"/>
<circle cx="1.1" cy="-6.5" r="1.3" fill="#fff" opacity="0.13"/>
<circle cx="1.5" cy="-2.9" r="1.7" fill="#fff" opacity="0.13"/>
<circle cx="4.7" cy="-1.4" r="1.1" fill="#000" opacity="0.13"/>
<circle cx="0.4" cy="-0.5" r="1.1" fill="#000" opacity="0.13"/>
<circle cx="3.5" cy="6.0" r="1.8" fill="#fff" opacity="0.13"/>
<circle cx="-4.2" cy="-4.7" r="1.3" fill="#000" opacity="0.13"/>
<circle cx="1.4" cy="-2.4" r="1.8" fill="#fff" opacity="0.13"/>
<circle cx="-2.6" cy="3.4" r="1.4" fill="#000" opacity="0.13"/>
</g>
<g transform="translate(143 84) rotate(22)">
<ellipse cx="0" cy="0" rx="5.3" ry="10.6" fill="#3d464b"/>
<circle cx="4.0" cy="-1.8" r="3.1" fill="#3d464b"/>
<circle cx="4.2" cy="3.5" r="2.5" fill="#3d464b"/>
<circle cx="2.5" cy="5.5" r="3.1" fill="#3d464b"/>
<circle cx="-0.1" cy="9.0" r="3.1" fill="#3d464b"/>
<circle cx="-2.6" cy="7.7" r="3.0" fill="#3d464b"/>
<circle cx="-2.9" cy="5.0" r="2.1" fill="#3d464b"/>
<circle cx="-5.0" cy="0.4" r="3.0" fill="#3d464b"/>
<circle cx="-3.5" cy="-4.2" r="2.5" fill="#3d464b"/>
<circle cx="-2.0" cy="-7.7" r="2.7" fill="#3d464b"/>
<circle cx="-0.6" cy="-9.8" r="2.6" fill="#3d464b"/>
<circle cx="2.8" cy="-6.4" r="2.5" fill="#3d464b"/>
<circle cx="3.6" cy="-2.8" r="3.2" fill="#3d464b"/>
<circle cx="0.8" cy="-7.0" r="1.6" fill="#fff" opacity="0.13"/>
<circle cx="1.1" cy="2.3" r="1.7" fill="#fff" opacity="0.13"/>
<circle cx="-3.9" cy="1.6" r="0.9" fill="#000" opacity="0.13"/>
<circle cx="-2.0" cy="2.1" r="1.0" fill="#000" opacity="0.13"/>
<circle cx="3.2" cy="0.3" r="1.8" fill="#000" opacity="0.13"/>
<circle cx="2.4" cy="1.5" r="1.2" fill="#fff" opacity="0.13"/>
<circle cx="0.3" cy="-0.8" r="1.7" fill="#000" opacity="0.13"/>
<circle cx="-2.9" cy="2.5" r="1.1" fill="#000" opacity="0.13"/>
<circle cx="0.8" cy="2.7" r="1.1" fill="#fff" opacity="0.13"/>
<circle cx="-2.0" cy="5.9" r="1.2" fill="#000" opacity="0.13"/>
<circle cx="-1.1" cy="-4.0" r="1.5" fill="#fff" opacity="0.13"/>
<circle cx="-3.0" cy="3.2" r="1.7" fill="#000" opacity="0.13"/>
<circle cx="1.5" cy="-3.0" r="1.2" fill="#fff" opacity="0.13"/>
<circle cx="3.3" cy="2.8" r="1.6" fill="#fff" opacity="0.13"/>
<circle cx="0.1" cy="1.5" r="1.5" fill="#000" opacity="0.13"/>
<circle cx="-1.6" cy="7.1" r="1.1" fill="#000" opacity="0.13"/>
</g>
<g transform="translate(161 84) rotate(-15)">
<ellipse cx="0" cy="0" rx="9.7" ry="8.4" fill="#c9d8de"/>
<circle cx="6.9" cy="-1.3" r="2.4" fill="#c9d8de"/>
<circle cx="6.2" cy="3.9" r="2.9" fill="#c9d8de"/>
<circle cx="3.1" cy="5.9" r="2.4" fill="#c9d8de"/>
<circle cx="-1.3" cy="6.1" r="2.2" fill="#c9d8de"/>
<circle cx="-2.4" cy="5.7" r="2.6" fill="#c9d8de"/>
<circle cx="-7.9" cy="3.0" r="2.5" fill="#c9d8de"/>
<circle cx="-8.0" cy="1.5" r="3.0" fill="#c9d8de"/>
<circle cx="-7.2" cy="-3.3" r="2.1" fill="#c9d8de"/>
<circle cx="-5.6" cy="-5.7" r="2.7" fill="#c9d8de"/>
<circle cx="0.2" cy="-5.9" r="2.1" fill="#c9d8de"/>
<circle cx="3.0" cy="-6.7" r="2.2" fill="#c9d8de"/>
<circle cx="6.8" cy="-4.0" r="2.9" fill="#c9d8de"/>
<circle cx="-2.9" cy="2.5" r="1.3" fill="#000" opacity="0.13"/>
<circle cx="-1.0" cy="-1.4" r="1.1" fill="#000" opacity="0.13"/>
<circle cx="-1.3" cy="1.4" r="1.1" fill="#fff" opacity="0.13"/>
<circle cx="-4.5" cy="1.9" r="1.2" fill="#000" opacity="0.13"/>
<circle cx="8.6" cy="-1.3" r="1.0" fill="#000" opacity="0.13"/>
<circle cx="1.1" cy="5.9" r="1.8" fill="#fff" opacity="0.13"/>
<circle cx="2.5" cy="-0.6" r="1.3" fill="#fff" opacity="0.13"/>
<circle cx="0.6" cy="0.6" r="0.9" fill="#fff" opacity="0.13"/>
<circle cx="0.6" cy="0.5" r="1.5" fill="#fff" opacity="0.13"/>
<circle cx="0.9" cy="4.1" r="1.2" fill="#fff" opacity="0.13"/>
<circle cx="-1.2" cy="-1.4" r="1.6" fill="#000" opacity="0.13"/>
<circle cx="-1.5" cy="-4.4" r="1.0" fill="#fff" opacity="0.13"/>
<circle cx="-1.8" cy="3.1" r="1.4" fill="#fff" opacity="0.13"/>
<circle cx="-3.9" cy="-3.4" r="1.0" fill="#fff" opacity="0.13"/>
<circle cx="1.4" cy="-1.4" r="1.2" fill="#000" opacity="0.13"/>
<circle cx="6.4" cy="-4.0" r="1.2" fill="#fff" opacity="0.13"/>
</g>
</g>
<text x="135" y="124" font-size="13" font-weight="bold" text-anchor="middle" >Murine Plasma</text>
<g filter="url(#pb)">
<circle cx="235.4" cy="10.4" r="2.6" fill="#f0a2ad"/><circle cx="235.4" cy="10.4" r="1.5" fill="#cf8692"/>
<circle cx="246" cy="7.5" r="2.6" fill="#f0a2ad"/><circle cx="246" cy="7.5" r="1.5" fill="#cf8692"/>
<circle cx="242.1" cy="13.9" r="2.6" fill="#f0a2ad"/><circle cx="242.1" cy="13.9" r="1.5" fill="#cf8692"/>
<circle cx="249.3" cy="13.9" r="2.6" fill="#f0a2ad"/><circle cx="249.3" cy="13.9" r="1.5" fill="#cf8692"/>
<circle cx="234.9" cy="17.6" r="2.6" fill="#f0a2ad"/><circle cx="234.9" cy="17.6" r="1.5" fill="#cf8692"/>
<circle cx="241.9" cy="20.5" r="2.6" fill="#f0a2ad"/><circle cx="241.9" cy="20.5" r="1.5" fill="#cf8692"/>
<circle cx="249.1" cy="20.2" r="2.6" fill="#f0a2ad"/><circle cx="249.1" cy="20.2" r="1.5" fill="#cf8692"/>
<circle cx="255.6" cy="21.6" r="2.6" fill="#f0a2ad"/><circle cx="255.6" cy="21.6" r="1.5" fill="#cf8692"/>
<circle cx="264.7" cy="18.75" r="2.6" fill="#f0a2ad"/><circle cx="264.7" cy="18.75" r="1.5" fill="#cf8692"/>
<circle cx="245.8" cy="26.25" r="2.6" fill="#f0a2ad"/><circle cx="245.8" cy="26.25" r="1.5" fill="#cf8692"/>
<circle cx="255.1" cy="28.2" r="2.6" fill="#f0a2ad"/><circle cx="255.1" cy="28.2" r="1.5" fill="#cf8692"/>
<circle cx="261.2" cy="24.8" r="2.6" fill="#f0a2ad"/><circle cx="261.2" cy="24.8" r="1.5" fill="#cf8692"/>
<circle cx="268.1" cy="24.8" r="2.6" fill="#f0a2ad"/><circle cx="268.1" cy="24.8" r="1.5" fill="#cf8692"/>
<circle cx="235.7" cy="29.3" r="2.6" fill="#f0a2ad"/><circle cx="235.7" cy="29.3" r="1.5" fill="#cf8692"/>
<circle cx="242.3" cy="33" r="2.6" fill="#f0a2ad"/><circle cx="242.3" cy="33" r="1.5" fill="#cf8692"/>
<circle cx="249.5" cy="33" r="2.6" fill="#f0a2ad"/><circle cx="249.5" cy="33" r="1.5" fill="#cf8692"/>
<circle cx="260.9" cy="30.8" r="2.6" fill="#f0a2ad"/><circle cx="260.9" cy="30.8" r="1.5" fill="#cf8692"/>
<circle cx="266.9" cy="30.6" r="2.6" fill="#f0a2ad"/><circle cx="266.9" cy="30.6" r="1.5" fill="#cf8692"/>
<circle cx="234.9" cy="36.5" r="2.6" fill="#f0a2ad"/><circle cx="234.9" cy="36.5" r="1.5" fill="#cf8692"/>
<circle cx="241.9" cy="39.4" r="2.6" fill="#f0a2ad"/><circle cx="241.9" cy="39.4" r="1.5" fill="#cf8692"/>
<circle cx="249.1" cy="39.4" r="2.6" fill="#f0a2ad"/><circle cx="249.1" cy="39.4" r="1.5" fill="#cf8692"/>
</g>
<text x="253.2" y="60.8" font-size="13.1" font-weight="bold" text-anchor="middle" >Cy5-NHS Ester</text>
<path d="M206.3 72.45H290.5V67.89999999999999L304.2 74.8L290.5 81.7V77.14999999999999H206.3Z" fill="#000"/>
<g filter="url(#pb)">
<g transform="translate(358 53) rotate(-25)">
<circle cx="10.1" cy="0.9" r="2.0" fill="#a8808a"/>
<circle cx="8.4" cy="2.2" r="2.0" fill="#a8808a"/>
<circle cx="4.8" cy="5.6" r="2.0" fill="#a8808a"/>
<circle cx="-0.4" cy="6.9" r="2.0" fill="#a8808a"/>
<circle cx="-6.5" cy="5.6" r="1.9" fill="#a8808a"/>
<circle cx="-8.7" cy="2.9" r="1.7" fill="#a8808a"/>
<circle cx="-9.0" cy="1.3" r="2.1" fill="#a8808a"/>
<circle cx="-6.9" cy="-4.3" r="1.7" fill="#a8808a"/>
<circle cx="-5.6" cy="-5.1" r="1.9" fill="#a8808a"/>
<circle cx="1.0" cy="-7.4" r="2.4" fill="#a8808a"/>
<circle cx="4.4" cy="-5.7" r="1.8" fill="#a8808a"/>
<circle cx="8.2" cy="-4.1" r="1.9" fill="#a8808a"/>
<ellipse cx="0" cy="0" rx="9.2" ry="6.6" fill="#8e969f"/>
<circle cx="6.8" cy="-0.3" r="2.6" fill="#8e969f"/>
<circle cx="8.4" cy="2.1" r="2.4" fill="#8e969f"/>
<circle cx="2.5" cy="4.6" r="3.3" fill="#8e969f"/>
<circle cx="-0.1" cy="5.2" r="3.0" fill="#8e969f"/>
<circle cx="-3.7" cy="4.8" r="3.2" fill="#8e969f"/>
<circle cx="-4.8" cy="3.3" r="3.1" fill="#8e969f"/>
<circle cx="-6.6" cy="-1.1" r="3.1" fill="#8e969f"/>
<circle cx="-7.2" cy="-2.7" r="2.9" fill="#8e969f"/>
<circle cx="-3.9" cy="-4.0" r="2.3" fill="#8e969f"/>
<circle cx="-1.5" cy="-4.8" r="2.1" fill="#8e969f"/>
<circle cx="3.0" cy="-4.6" r="2.2" fill="#8e969f"/>
<circle cx="7.3" cy="-2.7" r="2.6" fill="#8e969f"/>
<circle cx="-0.0" cy="-0.0" r="1.0" fill="#000" opacity="0.13"/>
<circle cx="-5.0" cy="0.4" r="0.9" fill="#000" opacity="0.13"/>
<circle cx="0.8" cy="-1.0" r="1.5" fill="#fff" opacity="0.13"/>
<circle cx="0.0" cy="-0.2" r="1.6" fill="#000" opacity="0.13"/>
<circle cx="5.0" cy="-4.4" r="1.3" fill="#000" opacity="0.13"/>
<circle cx="0.5" cy="4.7" r="1.3" fill="#fff" opacity="0.13"/>
<circle cx="2.3" cy="-0.6" r="1.3" fill="#fff" opacity="0.13"/>
<circle cx="3.0" cy="-1.1" r="1.3" fill="#fff" opacity="0.13"/>
<circle cx="3.1" cy="-1.2" r="1.6" fill="#fff" opacity="0.13"/>
<circle cx="-6.5" cy="1.6" r="1.7" fill="#fff" opacity="0.13"/>
<circle cx="0.6" cy="0.2" r="1.0" fill="#000" opacity="0.13"/>
<circle cx="-4.1" cy="-1.3" r="1.1" fill="#000" opacity="0.13"/>
<circle cx="0.4" cy="0.4" r="1.2" fill="#000" opacity="0.13"/>
<circle cx="1.3" cy="-5.4" r="1.5" fill="#000" opacity="0.13"/>
<circle cx="1.4" cy="5.9" r="1.4" fill="#000" opacity="0.13"/>
<circle cx="0.3" cy="-0.9" r="1.3" fill="#000" opacity="0.13"/>
</g>
<g transform="translate(378 48.5) rotate(-20)">
<circle cx="8.4" cy="-0.1" r="2.2" fill="#d4b4bc"/>
<circle cx="8.2" cy="3.6" r="1.9" fill="#d4b4bc"/>
<circle cx="4.8" cy="5.0" r="1.6" fill="#d4b4bc"/>
<circle cx="-1.3" cy="6.4" r="2.3" fill="#d4b4bc"/>
<circle cx="-4.3" cy="6.0" r="2.1" fill="#d4b4bc"/>
<circle cx="-8.9" cy="2.8" r="2.1" fill="#d4b4bc"/>
<circle cx="-8.2" cy="0.9" r="1.6" fill="#d4b4bc"/>
<circle cx="-7.5" cy="-4.3" r="1.7" fill="#d4b4bc"/>
<circle cx="-4.3" cy="-5.1" r="2.3" fill="#d4b4bc"/>
<circle cx="0.7" cy="-6.8" r="1.8" fill="#d4b4bc"/>
<circle cx="5.6" cy="-4.6" r="1.6" fill="#d4b4bc"/>
<circle cx="8.6" cy="-2.8" r="1.8" fill="#d4b4bc"/>
<ellipse cx="0" cy="0" rx="8.8" ry="6.2" fill="#ccd1d9"/>
<circle cx="6.9" cy="0.3" r="2.9" fill="#ccd1d9"/>
<circle cx="5.6" cy="2.1" r="3.2" fill="#ccd1d9"/>
<circle cx="2.3" cy="4.1" r="2.2" fill="#ccd1d9"/>
<circle cx="1.0" cy="5.2" r="3.0" fill="#ccd1d9"/>
<circle cx="-3.4" cy="3.8" r="2.8" fill="#ccd1d9"/>
<circle cx="-7.0" cy="1.4" r="3.3" fill="#ccd1d9"/>
<circle cx="-7.1" cy="-1.1" r="2.6" fill="#ccd1d9"/>
<circle cx="-6.0" cy="-2.6" r="2.0" fill="#ccd1d9"/>
<circle cx="-4.5" cy="-3.5" r="2.9" fill="#ccd1d9"/>
<circle cx="1.5" cy="-4.8" r="2.5" fill="#ccd1d9"/>
<circle cx="2.7" cy="-4.1" r="2.1" fill="#ccd1d9"/>
<circle cx="7.6" cy="-2.1" r="2.2" fill="#ccd1d9"/>
<circle cx="-2.6" cy="-0.7" r="1.3" fill="#000" opacity="0.13"/>
<circle cx="4.6" cy="-1.7" r="1.6" fill="#fff" opacity="0.13"/>
<circle cx="0.3" cy="3.9" r="1.6" fill="#fff" opacity="0.13"/>
<circle cx="-1.4" cy="1.6" r="1.5" fill="#000" opacity="0.13"/>
<circle cx="-4.8" cy="-2.8" r="1.5" fill="#fff" opacity="0.13"/>
<circle cx="4.7" cy="-1.6" r="1.2" fill="#000" opacity="0.13"/>
<circle cx="3.1" cy="0.5" r="0.9" fill="#fff" opacity="0.13"/>
<circle cx="-1.0" cy="2.1" r="1.1" fill="#000" opacity="0.13"/>
<circle cx="3.9" cy="-0.8" r="1.8" fill="#000" opacity="0.13"/>
<circle cx="-1.9" cy="3.1" r="1.3" fill="#fff" opacity="0.13"/>
<circle cx="-3.8" cy="1.8" r="1.1" fill="#000" opacity="0.13"/>
<circle cx="-4.9" cy="0.7" r="1.8" fill="#fff" opacity="0.13"/>
<circle cx="-3.8" cy="1.5" r="1.2" fill="#000" opacity="0.13"/>
<circle cx="-3.1" cy="0.1" r="1.1" fill="#000" opacity="0.13"/>
<circle cx="1.1" cy="-0.4" r="1.3" fill="#fff" opacity="0.13"/>
<circle cx="5.6" cy="4.0" r="1.3" fill="#000" opacity="0.13"/>
</g>
<g transform="translate(392.5 57) rotate(20)">
<circle cx="7.9" cy="-0.8" r="2.2" fill="#a8808a"/>
<circle cx="6.5" cy="6.6" r="2.0" fill="#a8808a"/>
<circle cx="3.8" cy="8.1" r="2.3" fill="#a8808a"/>
<circle cx="-1.4" cy="11.2" r="1.7" fill="#a8808a"/>
<circle cx="-2.7" cy="9.3" r="2.1" fill="#a8808a"/>
<circle cx="-7.6" cy="4.1" r="1.7" fill="#a8808a"/>
<circle cx="-7.4" cy="-1.3" r="1.7" fill="#a8808a"/>
<circle cx="-6.7" cy="-4.8" r="2.2" fill="#a8808a"/>
<circle cx="-2.3" cy="-8.7" r="2.1" fill="#a8808a"/>
<circle cx="0.4" cy="-9.7" r="1.7" fill="#a8808a"/>
<circle cx="4.2" cy="-8.6" r="2.0" fill="#a8808a"/>
<circle cx="6.8" cy="-5.1" r="2.2" fill="#a8808a"/>
<ellipse cx="0" cy="0" rx="7.5" ry="10.1" fill="#98919a"/>
<circle cx="6.3" cy="-0.8" r="2.1" fill="#98919a"/>
<circle cx="4.4" cy="4.3" r="2.5" fill="#98919a"/>
<circle cx="2.7" cy="8.2" r="2.8" fill="#98919a"/>
<circle cx="-0.4" cy="8.2" r="2.5" fill="#98919a"/>
<circle cx="-3.4" cy="7.0" r="2.2" fill="#98919a"/>
<circle cx="-4.7" cy="3.6" r="2.2" fill="#98919a"/>
<circle cx="-5.4" cy="1.3" r="2.9" fill="#98919a"/>
<circle cx="-5.0" cy="-2.5" r="2.6" fill="#98919a"/>
<circle cx="-2.1" cy="-7.5" r="2.2" fill="#98919a"/>
<circle cx="-0.7" cy="-9.3" r="2.7" fill="#98919a"/>
<circle cx="3.3" cy="-6.7" r="2.5" fill="#98919a"/>
<circle cx="5.6" cy="-3.7" r="3.2" fill="#98919a"/>
<circle cx="-1.5" cy="-3.0" r="1.0" fill="#000" opacity="0.13"/>
<circle cx="-0.8" cy="0.8" r="1.3" fill="#fff" opacity="0.13"/>
<circle cx="-1.4" cy="-0.7" r="1.5" fill="#000" opacity="0.13"/>
<circle cx="-1.6" cy="-1.6" r="1.2" fill="#000" opacity="0.13"/>
<circle cx="-2.3" cy="0.3" r="1.3" fill="#fff" opacity="0.13"/>
<circle cx="0.3" cy="2.4" r="0.9" fill="#000" opacity="0.13"/>
<circle cx="1.1" cy="8.5" r="1.5" fill="#fff" opacity="0.13"/>
<circle cx="-6.6" cy="1.3" r="1.6" fill="#000" opacity="0.13"/>
<circle cx="0.1" cy="-4.7" r="1.1" fill="#000" opacity="0.13"/>
<circle cx="-6.0" cy="0.3" r="1.5" fill="#000" opacity="0.13"/>
<circle cx="1.6" cy="-8.4" r="1.6" fill="#000" opacity="0.13"/>
<circle cx="-0.6" cy="1.2" r="1.2" fill="#fff" opacity="0.13"/>
<circle cx="-5.4" cy="-2.7" r="1.3" fill="#fff" opacity="0.13"/>
<circle cx="-2.6" cy="-2.1" r="0.9" fill="#fff" opacity="0.13"/>
<circle cx="0.4" cy="-1.0" r="1.7" fill="#fff" opacity="0.13"/>
<circle cx="-0.3" cy="-6.6" r="0.9" fill="#000" opacity="0.13"/>
</g>
<g transform="translate(372.5 67) rotate(15)">
<circle cx="4.1" cy="1.3" r="2.5" fill="#8a4850"/>
<circle cx="3.4" cy="4.2" r="2.3" fill="#8a4850"/>
<circle cx="1.4" cy="8.0" r="1.6" fill="#8a4850"/>
<circle cx="0.4" cy="8.4" r="2.0" fill="#8a4850"/>
<circle cx="-2.3" cy="6.8" r="1.9" fill="#8a4850"/>
<circle cx="-4.4" cy="3.6" r="2.2" fill="#8a4850"/>
<circle cx="-4.1" cy="-1.0" r="1.7" fill="#8a4850"/>
<circle cx="-4.0" cy="-3.8" r="1.8" fill="#8a4850"/>
<circle cx="-2.4" cy="-7.2" r="1.8" fill="#8a4850"/>
<circle cx="-0.7" cy="-8.4" r="1.8" fill="#8a4850"/>
<circle cx="1.8" cy="-7.4" r="2.4" fill="#8a4850"/>
<circle cx="3.8" cy="-4.6" r="2.3" fill="#8a4850"/>
<ellipse cx="0" cy="0" rx="4.4" ry="8.4" fill="#823a42"/>
<circle cx="3.8" cy="-1.5" r="2.5" fill="#823a42"/>
<circle cx="3.1" cy="3.4" r="2.3" fill="#823a42"/>
<circle cx="1.7" cy="5.4" r="2.5" fill="#823a42"/>
<circle cx="0.5" cy="6.5" r="3.0" fill="#823a42"/>
<circle cx="-1.8" cy="6.1" r="2.7" fill="#823a42"/>
<circle cx="-3.2" cy="2.6" r="2.2" fill="#823a42"/>
<circle cx="-4.2" cy="-0.7" r="2.9" fill="#823a42"/>
<circle cx="-3.6" cy="-3.6" r="3.1" fill="#823a42"/>
<circle cx="-1.6" cy="-5.7" r="2.3" fill="#823a42"/>
<circle cx="-0.3" cy="-6.7" r="2.9" fill="#823a42"/>
<circle cx="2.7" cy="-5.8" r="3.2" fill="#823a42"/>
<circle cx="2.9" cy="-4.8" r="2.2" fill="#823a42"/>
<circle cx="-0.8" cy="-0.1" r="1.6" fill="#000" opacity="0.13"/>
<circle cx="0.2" cy="1.5" r="1.2" fill="#fff" opacity="0.13"/>
<circle cx="-0.0" cy="-1.3" r="1.7" fill="#000" opacity="0.13"/>
<circle cx="-2.5" cy="3.6" r="1.7" fill="#fff" opacity="0.13"/>
<circle cx="3.6" cy="2.5" r="1.6" fill="#fff" opacity="0.13"/>
<circle cx="3.5" cy="3.0" r="1.7" fill="#fff" opacity="0.13"/>
<circle cx="0.1" cy="-4.7" r="1.2" fill="#fff" opacity="0.13"/>
<circle cx="-2.5" cy="-3.3" r="1.4" fill="#000" opacity="0.13"/>
<circle cx="-1.4" cy="2.5" r="1.7" fill="#fff" opacity="0.13"/>
<circle cx="2.9" cy="-3.0" r="1.0" fill="#fff" opacity="0.13"/>
<circle cx="2.8" cy="-5.2" r="1.4" fill="#fff" opacity="0.13"/>
<circle cx="0.1" cy="-3.0" r="1.1" fill="#000" opacity="0.13"/>
<circle cx="1.0" cy="-1.9" r="1.5" fill="#000" opacity="0.13"/>
<circle cx="3.2" cy="-2.8" r="1.0" fill="#fff" opacity="0.13"/>
<circle cx="0.4" cy="0.2" r="1.0" fill="#000" opacity="0.13"/>
<circle cx="-2.4" cy="-1.1" r="1.1" fill="#fff" opacity="0.13"/>
</g>
<g transform="translate(354 70.5) rotate(0)">
<circle cx="7.7" cy="-0.0" r="2.3" fill="#a8808a"/>
<circle cx="6.3" cy="5.8" r="1.7" fill="#a8808a"/>
<circle cx="4.5" cy="6.2" r="2.2" fill="#a8808a"/>
<circle cx="0.9" cy="8.7" r="1.9" fill="#a8808a"/>
<circle cx="-3.2" cy="7.0" r="2.0" fill="#a8808a"/>
<circle cx="-6.5" cy="5.4" r="1.7" fill="#a8808a"/>
<circle cx="-8.7" cy="-1.0" r="2.0" fill="#a8808a"/>
<circle cx="-6.3" cy="-5.7" r="2.5" fill="#a8808a"/>
<circle cx="-3.7" cy="-7.4" r="2.0" fill="#a8808a"/>
<circle cx="-1.1" cy="-9.2" r="1.7" fill="#a8808a"/>
<circle cx="3.7" cy="-6.8" r="2.5" fill="#a8808a"/>
<circle cx="6.8" cy="-4.6" r="1.7" fill="#a8808a"/>
<ellipse cx="0" cy="0" rx="7.9" ry="8.4" fill="#98919a"/>
<circle cx="7.5" cy="-1.4" r="2.3" fill="#98919a"/>
<circle cx="6.0" cy="3.6" r="2.6" fill="#98919a"/>
<circle cx="3.5" cy="6.8" r="2.5" fill="#98919a"/>
<circle cx="1.4" cy="7.4" r="2.8" fill="#98919a"/>
<circle cx="-2.3" cy="5.5" r="2.7" fill="#98919a"/>
<circle cx="-5.3" cy="3.0" r="3.2" fill="#98919a"/>
<circle cx="-7.2" cy="-0.7" r="3.2" fill="#98919a"/>
<circle cx="-5.4" cy="-2.0" r="2.9" fill="#98919a"/>
<circle cx="-2.7" cy="-7.6" r="2.8" fill="#98919a"/>
<circle cx="0.2" cy="-7.3" r="2.2" fill="#98919a"/>
<circle cx="4.9" cy="-5.7" r="2.9" fill="#98919a"/>
<circle cx="5.8" cy="-3.1" r="3.2" fill="#98919a"/>
<circle cx="-3.5" cy="-2.1" r="1.7" fill="#000" opacity="0.13"/>
<circle cx="0.1" cy="0.4" r="1.8" fill="#000" opacity="0.13"/>
<circle cx="0.7" cy="0.7" r="1.6" fill="#000" opacity="0.13"/>
<circle cx="-7.1" cy="0.1" r="1.3" fill="#000" opacity="0.13"/>
<circle cx="1.6" cy="-1.8" r="1.5" fill="#000" opacity="0.13"/>
<circle cx="-6.3" cy="-2.8" r="1.3" fill="#fff" opacity="0.13"/>
<circle cx="2.5" cy="4.6" r="1.1" fill="#fff" opacity="0.13"/>
<circle cx="0.7" cy="1.4" r="1.0" fill="#fff" opacity="0.13"/>
<circle cx="-1.5" cy="-4.1" r="1.6" fill="#fff" opacity="0.13"/>
<circle cx="-3.6" cy="-2.8" r="1.0" fill="#fff" opacity="0.13"/>
<circle cx="-1.5" cy="-4.4" r="1.5" fill="#fff" opacity="0.13"/>
<circle cx="0.6" cy="-1.9" r="0.9" fill="#000" opacity="0.13"/>
<circle cx="0.9" cy="-5.8" r="1.5" fill="#fff" opacity="0.13"/>
<circle cx="-0.0" cy="-0.0" r="1.3" fill="#000" opacity="0.13"/>
<circle cx="-0.0" cy="-0.0" r="1.7" fill="#fff" opacity="0.13"/>
<circle cx="0.5" cy="1.3" r="1.0" fill="#fff" opacity="0.13"/>
</g>
<g transform="translate(389 75) rotate(-20)">
<circle cx="9.5" cy="-0.3" r="2.2" fill="#a8808a"/>
<circle cx="8.2" cy="3.9" r="2.1" fill="#a8808a"/>
<circle cx="5.5" cy="4.5" r="1.9" fill="#a8808a"/>
<circle cx="-1.1" cy="5.9" r="1.6" fill="#a8808a"/>
<circle cx="-4.6" cy="4.8" r="2.1" fill="#a8808a"/>
<circle cx="-7.0" cy="4.1" r="2.2" fill="#a8808a"/>
<circle cx="-9.3" cy="0.3" r="2.4" fill="#a8808a"/>
<circle cx="-8.2" cy="-1.9" r="1.8" fill="#a8808a"/>
<circle cx="-4.8" cy="-5.6" r="1.7" fill="#a8808a"/>
<circle cx="-1.3" cy="-6.3" r="2.1" fill="#a8808a"/>
<circle cx="6.0" cy="-5.3" r="2.4" fill="#a8808a"/>
<circle cx="8.1" cy="-3.6" r="2.2" fill="#a8808a"/>
<ellipse cx="0" cy="0" rx="8.8" ry="6.2" fill="#8e969f"/>
<circle cx="7.0" cy="0.2" r="2.9" fill="#8e969f"/>
<circle cx="7.8" cy="1.8" r="3.0" fill="#8e969f"/>
<circle cx="4.3" cy="4.3" r="2.9" fill="#8e969f"/>
<circle cx="1.8" cy="5.8" r="2.9" fill="#8e969f"/>
<circle cx="-2.5" cy="4.4" r="2.5" fill="#8e969f"/>
<circle cx="-6.3" cy="2.3" r="3.2" fill="#8e969f"/>
<circle cx="-8.0" cy="0.5" r="2.4" fill="#8e969f"/>
<circle cx="-6.2" cy="-1.3" r="2.3" fill="#8e969f"/>
<circle cx="-3.7" cy="-4.0" r="2.1" fill="#8e969f"/>
<circle cx="1.2" cy="-5.7" r="2.4" fill="#8e969f"/>
<circle cx="2.5" cy="-4.2" r="2.4" fill="#8e969f"/>
<circle cx="6.9" cy="-3.1" r="2.7" fill="#8e969f"/>
<circle cx="-4.7" cy="-4.5" r="1.4" fill="#fff" opacity="0.13"/>
<circle cx="5.0" cy="-3.0" r="1.8" fill="#000" opacity="0.13"/>
<circle cx="-0.1" cy="0.4" r="1.3" fill="#000" opacity="0.13"/>
<circle cx="5.0" cy="2.1" r="1.3" fill="#000" opacity="0.13"/>
<circle cx="3.5" cy="0.5" r="1.4" fill="#fff" opacity="0.13"/>
<circle cx="-0.1" cy="-1.1" r="1.1" fill="#fff" opacity="0.13"/>
<circle cx="6.5" cy="1.6" r="1.0" fill="#fff" opacity="0.13"/>
<circle cx="0.1" cy="-0.0" r="1.2" fill="#000" opacity="0.13"/>
<circle cx="2.0" cy="0.5" r="1.4" fill="#fff" opacity="0.13"/>
<circle cx="0.3" cy="-3.8" r="1.6" fill="#fff" opacity="0.13"/>
<circle cx="-0.5" cy="-2.7" r="1.3" fill="#000" opacity="0.13"/>
<circle cx="4.7" cy="-2.1" r="1.1" fill="#fff" opacity="0.13"/>
<circle cx="-4.0" cy="-2.1" r="1.0" fill="#fff" opacity="0.13"/>
<circle cx="-1.0" cy="-2.2" r="1.2" fill="#fff" opacity="0.13"/>
<circle cx="1.5" cy="2.6" r="0.9" fill="#fff" opacity="0.13"/>
<circle cx="3.1" cy="-0.2" r="1.1" fill="#fff" opacity="0.13"/>
</g>
<g transform="translate(368.5 84.5) rotate(-25)">
<circle cx="8.0" cy="0.5" r="2.3" fill="#d4b4bc"/>
<circle cx="8.0" cy="2.3" r="1.8" fill="#d4b4bc"/>
<circle cx="4.8" cy="5.4" r="2.2" fill="#d4b4bc"/>
<circle cx="-1.3" cy="6.1" r="1.7" fill="#d4b4bc"/>
<circle cx="-5.3" cy="6.3" r="1.7" fill="#d4b4bc"/>
<circle cx="-8.2" cy="3.0" r="1.6" fill="#d4b4bc"/>
<circle cx="-8.9" cy="0.9" r="1.6" fill="#d4b4bc"/>
<circle cx="-8.0" cy="-3.2" r="2.3" fill="#d4b4bc"/>
<circle cx="-4.5" cy="-6.5" r="2.4" fill="#d4b4bc"/>
<circle cx="-0.2" cy="-6.1" r="2.2" fill="#d4b4bc"/>
<circle cx="3.7" cy="-6.4" r="2.3" fill="#d4b4bc"/>
<circle cx="7.9" cy="-3.3" r="1.7" fill="#d4b4bc"/>
<ellipse cx="0" cy="0" rx="8.8" ry="6.6" fill="#ccd1d9"/>
<circle cx="7.6" cy="1.1" r="2.3" fill="#ccd1d9"/>
<circle cx="5.9" cy="4.2" r="3.0" fill="#ccd1d9"/>
<circle cx="2.3" cy="5.9" r="2.0" fill="#ccd1d9"/>
<circle cx="-0.5" cy="4.8" r="2.9" fill="#ccd1d9"/>
<circle cx="-2.2" cy="5.1" r="3.1" fill="#ccd1d9"/>
<circle cx="-7.0" cy="2.3" r="2.5" fill="#ccd1d9"/>
<circle cx="-7.5" cy="-0.3" r="2.5" fill="#ccd1d9"/>
<circle cx="-5.8" cy="-2.6" r="2.6" fill="#ccd1d9"/>
<circle cx="-2.8" cy="-4.4" r="2.6" fill="#ccd1d9"/>
<circle cx="1.5" cy="-5.3" r="2.5" fill="#ccd1d9"/>
<circle cx="4.0" cy="-5.2" r="3.2" fill="#ccd1d9"/>
<circle cx="6.1" cy="-2.8" r="2.4" fill="#ccd1d9"/>
<circle cx="3.7" cy="0.3" r="1.5" fill="#000" opacity="0.13"/>
<circle cx="-0.4" cy="-0.4" r="1.5" fill="#000" opacity="0.13"/>
<circle cx="1.3" cy="-0.4" r="1.0" fill="#000" opacity="0.13"/>
<circle cx="-4.1" cy="0.4" r="1.4" fill="#000" opacity="0.13"/>
<circle cx="2.1" cy="2.4" r="1.1" fill="#000" opacity="0.13"/>
<circle cx="3.7" cy="-1.6" r="0.9" fill="#000" opacity="0.13"/>
<circle cx="4.3" cy="1.9" r="1.4" fill="#000" opacity="0.13"/>
<circle cx="1.5" cy="-5.2" r="1.0" fill="#fff" opacity="0.13"/>
<circle cx="4.0" cy="2.3" r="1.2" fill="#fff" opacity="0.13"/>
<circle cx="2.4" cy="-2.8" r="1.3" fill="#fff" opacity="0.13"/>
<circle cx="-1.7" cy="-3.4" r="0.9" fill="#fff" opacity="0.13"/>
<circle cx="-1.4" cy="3.1" r="1.7" fill="#fff" opacity="0.13"/>
<circle cx="3.6" cy="3.6" r="1.5" fill="#000" opacity="0.13"/>
<circle cx="6.4" cy="1.4" r="1.1" fill="#fff" opacity="0.13"/>
<circle cx="6.8" cy="0.1" r="1.4" fill="#000" opacity="0.13"/>
<circle cx="-1.0" cy="-1.7" r="1.8" fill="#000" opacity="0.13"/>
</g>
<g transform="translate(383.5 91.5) rotate(15)">
<circle cx="5.2" cy="-0.2" r="1.9" fill="#8a4850"/>
<circle cx="3.6" cy="5.7" r="2.1" fill="#8a4850"/>
<circle cx="3.0" cy="7.8" r="1.9" fill="#8a4850"/>
<circle cx="0.4" cy="8.8" r="2.0" fill="#8a4850"/>
<circle cx="-2.1" cy="9.4" r="2.2" fill="#8a4850"/>
<circle cx="-4.2" cy="4.5" r="1.8" fill="#8a4850"/>
<circle cx="-4.8" cy="-0.1" r="2.5" fill="#8a4850"/>
<circle cx="-4.9" cy="-3.2" r="2.1" fill="#8a4850"/>
<circle cx="-2.3" cy="-8.7" r="1.9" fill="#8a4850"/>
<circle cx="0.1" cy="-9.3" r="2.2" fill="#8a4850"/>
<circle cx="2.3" cy="-7.6" r="1.9" fill="#8a4850"/>
<circle cx="3.8" cy="-5.7" r="2.5" fill="#8a4850"/>
<ellipse cx="0" cy="0" rx="4.8" ry="9.2" fill="#823a42"/>
<circle cx="3.6" cy="-0.3" r="3.1" fill="#823a42"/>
<circle cx="3.5" cy="3.6" r="3.0" fill="#823a42"/>
<circle cx="3.0" cy="6.9" r="2.2" fill="#823a42"/>
<circle cx="-0.9" cy="7.1" r="2.4" fill="#823a42"/>
<circle cx="-1.2" cy="7.7" r="2.2" fill="#823a42"/>
<circle cx="-3.9" cy="3.6" r="3.0" fill="#823a42"/>
<circle cx="-4.0" cy="0.8" r="2.8" fill="#823a42"/>
<circle cx="-3.9" cy="-4.0" r="2.6" fill="#823a42"/>
<circle cx="-3.0" cy="-5.9" r="2.6" fill="#823a42"/>
<circle cx="-0.7" cy="-8.5" r="2.6" fill="#823a42"/>
<circle cx="2.8" cy="-6.7" r="3.3" fill="#823a42"/>
<circle cx="3.5" cy="-4.1" r="3.2" fill="#823a42"/>
<circle cx="-1.4" cy="4.1" r="1.5" fill="#000" opacity="0.13"/>
<circle cx="-1.0" cy="7.9" r="1.2" fill="#000" opacity="0.13"/>
<circle cx="0.6" cy="-3.0" r="1.3" fill="#fff" opacity="0.13"/>
<circle cx="-0.9" cy="3.8" r="1.5" fill="#fff" opacity="0.13"/>
<circle cx="-0.2" cy="0.8" r="0.9" fill="#000" opacity="0.13"/>
<circle cx="-0.9" cy="-0.7" r="1.1" fill="#fff" opacity="0.13"/>
<circle cx="-1.2" cy="2.8" r="1.3" fill="#fff" opacity="0.13"/>
<circle cx="-0.1" cy="-1.7" r="1.8" fill="#000" opacity="0.13"/>
<circle cx="0.4" cy="1.5" r="1.0" fill="#000" opacity="0.13"/>
<circle cx="-0.4" cy="-3.4" r="1.6" fill="#fff" opacity="0.13"/>
<circle cx="2.3" cy="6.3" r="1.0" fill="#fff" opacity="0.13"/>
<circle cx="3.1" cy="5.3" r="1.7" fill="#000" opacity="0.13"/>
<circle cx="3.1" cy="4.2" r="1.6" fill="#fff" opacity="0.13"/>
<circle cx="1.3" cy="2.8" r="1.6" fill="#fff" opacity="0.13"/>
<circle cx="-3.2" cy="0.8" r="1.0" fill="#fff" opacity="0.13"/>
<circle cx="-2.6" cy="3.4" r="1.7" fill="#fff" opacity="0.13"/>
</g>
<g transform="translate(350 96) rotate(-25)">
<circle cx="10.7" cy="-0.9" r="1.6" fill="#a8808a"/>
<circle cx="8.9" cy="2.3" r="2.4" fill="#a8808a"/>
<circle cx="5.4" cy="6.0" r="2.2" fill="#a8808a"/>
<circle cx="-1.5" cy="6.5" r="2.1" fill="#a8808a"/>
<circle cx="-5.4" cy="4.9" r="2.3" fill="#a8808a"/>
<circle cx="-8.4" cy="2.9" r="2.5" fill="#a8808a"/>
<circle cx="-10.3" cy="-1.2" r="2.4" fill="#a8808a"/>
<circle cx="-8.2" cy="-2.5" r="2.2" fill="#a8808a"/>
<circle cx="-4.2" cy="-6.3" r="2.3" fill="#a8808a"/>
<circle cx="-0.2" cy="-5.8" r="1.7" fill="#a8808a"/>
<circle cx="5.5" cy="-4.5" r="2.2" fill="#a8808a"/>
<circle cx="8.4" cy="-2.6" r="2.0" fill="#a8808a"/>
<ellipse cx="0" cy="0" rx="9.7" ry="6.2" fill="#8e969f"/>
<circle cx="8.3" cy="-0.9" r="2.1" fill="#8e969f"/>
<circle cx="7.7" cy="2.0" r="3.0" fill="#8e969f"/>
<circle cx="5.4" cy="4.1" r="2.1" fill="#8e969f"/>
<circle cx="2.0" cy="5.4" r="3.0" fill="#8e969f"/>
<circle cx="-2.8" cy="5.2" r="2.8" fill="#8e969f"/>
<circle cx="-7.5" cy="1.8" r="2.4" fill="#8e969f"/>
<circle cx="-8.2" cy="-0.4" r="2.1" fill="#8e969f"/>
<circle cx="-6.0" cy="-2.9" r="2.4" fill="#8e969f"/>
<circle cx="-5.1" cy="-4.3" r="3.2" fill="#8e969f"/>
<circle cx="0.3" cy="-4.4" r="3.1" fill="#8e969f"/>
<circle cx="4.2" cy="-3.6" r="3.2" fill="#8e969f"/>
<circle cx="7.4" cy="-3.2" r="3.1" fill="#8e969f"/>
<circle cx="-5.0" cy="3.4" r="1.6" fill="#fff" opacity="0.13"/>
<circle cx="8.0" cy="2.0" r="1.7" fill="#000" opacity="0.13"/>
<circle cx="-2.3" cy="-0.1" r="1.4" fill="#000" opacity="0.13"/>
<circle cx="-1.2" cy="2.3" r="1.2" fill="#fff" opacity="0.13"/>
<circle cx="5.2" cy="0.4" r="1.6" fill="#fff" opacity="0.13"/>
<circle cx="4.2" cy="3.8" r="1.1" fill="#fff" opacity="0.13"/>
<circle cx="-0.9" cy="-1.3" r="1.0" fill="#000" opacity="0.13"/>
<circle cx="5.5" cy="-3.0" r="1.2" fill="#000" opacity="0.13"/>
<circle cx="0.0" cy="3.8" r="1.0" fill="#fff" opacity="0.13"/>
<circle cx="-5.2" cy="2.5" r="1.7" fill="#fff" opacity="0.13"/>
<circle cx="-2.4" cy="3.0" r="1.7" fill="#fff" opacity="0.13"/>
<circle cx="-2.2" cy="2.6" r="1.2" fill="#000" opacity="0.13"/>
<circle cx="0.2" cy="-0.1" r="1.5" fill="#000" opacity="0.13"/>
<circle cx="5.6" cy="-0.2" r="1.5" fill="#fff" opacity="0.13"/>
<circle cx="1.0" cy="1.6" r="1.2" fill="#000" opacity="0.13"/>
<circle cx="-3.6" cy="-2.5" r="1.6" fill="#000" opacity="0.13"/>
</g>
</g>
<text x="317" y="124" font-size="13" font-weight="bold" text-anchor="start" >Cy5 labelled</text>
<text x="317" y="139.5" font-size="13" font-weight="bold" text-anchor="start" >murine plasma</text>
<circle cx="484.6" cy="21.3" r="20.6" fill="url(#sph)" filter="url(#pb)"/>
<text x="471" y="18.8" font-size="8" font-weight="bold" text-anchor="start" >PS-</text>
<text x="471" y="29.4" font-size="8" font-weight="bold" text-anchor="start" >COOH</text>
<text x="484.5" y="64.6" font-size="13" font-weight="bold" text-anchor="middle" >Incubation with NP</text>
<path d="M438.2 72.89999999999999H522.7V68.7L535.7 75.3L522.7 81.89999999999999V77.7H438.2Z" fill="#000"/>
<g filter="url(#pb2)">
<circle cx="627.8" cy="64.0" r="2.3" fill="#7e8891"/>
<circle cx="626.4" cy="68.3" r="2.2" fill="#bcc0c8"/>
<circle cx="624.3" cy="59.8" r="2.5" fill="#878b94"/>
<circle cx="625.9" cy="61.1" r="3.0" fill="#86444c"/>
<circle cx="628.3" cy="63.7" r="3.3" fill="#7e8891"/>
<circle cx="629.9" cy="65.2" r="2.0" fill="#a8adb5"/>
<circle cx="626.9" cy="65.9" r="2.8" fill="#a8adb5"/>
<circle cx="622.4" cy="66.3" r="2.1" fill="#7e8891"/>
<circle cx="630.3" cy="63.8" r="2.7" fill="#a8adb5"/>
<circle cx="625.7" cy="61.1" r="2.9" fill="#987078"/>
<circle cx="624.6" cy="72.5" r="3.3" fill="#94848d"/>
<circle cx="624.4" cy="77.3" r="2.8" fill="#8c7d86"/>
<circle cx="618.4" cy="75.6" r="2.7" fill="#76808a"/>
<circle cx="619.5" cy="78.8" r="3.2" fill="#76808a"/>
<circle cx="620.3" cy="79.0" r="2.7" fill="#a8adb5"/>
<circle cx="626.5" cy="74.0" r="2.0" fill="#94848d"/>
<circle cx="619.1" cy="76.9" r="3.3" fill="#878b94"/>
<circle cx="622.1" cy="75.5" r="3.0" fill="#86444c"/>
<circle cx="622.8" cy="73.4" r="3.3" fill="#94848d"/>
<circle cx="619.3" cy="72.1" r="2.5" fill="#a8adb5"/>
<circle cx="619.9" cy="77.2" r="2.1" fill="#9aa0a8"/>
<circle cx="624.0" cy="79.6" r="2.9" fill="#94848d"/>
<circle cx="621.7" cy="82.1" r="2.3" fill="#9aa0a8"/>
<circle cx="625.6" cy="81.5" r="3.1" fill="#987078"/>
<circle cx="621.6" cy="82.1" r="3.2" fill="#86444c"/>
<circle cx="618.6" cy="76.9" r="3.0" fill="#7e8891"/>
<circle cx="623.7" cy="76.8" r="2.4" fill="#905a64"/>
<circle cx="623.0" cy="76.6" r="2.3" fill="#76808a"/>
<circle cx="617.8" cy="79.3" r="3.2" fill="#9aa0a8"/>
<circle cx="623.7" cy="80.5" r="2.3" fill="#94848d"/>
<circle cx="611.5" cy="85.3" r="3.1" fill="#7e8891"/>
<circle cx="612.6" cy="86.7" r="3.0" fill="#987078"/>
<circle cx="616.4" cy="90.9" r="2.4" fill="#bcc0c8"/>
<circle cx="616.5" cy="84.6" r="2.9" fill="#76808a"/>
<circle cx="617.3" cy="91.8" r="2.0" fill="#878b94"/>
<circle cx="614.2" cy="85.6" r="3.2" fill="#76808a"/>
<circle cx="613.5" cy="87.0" r="3.2" fill="#9aa0a8"/>
<circle cx="612.5" cy="84.3" r="2.1" fill="#878b94"/>
<circle cx="616.9" cy="90.3" r="2.1" fill="#94848d"/>
<circle cx="617.0" cy="84.5" r="2.7" fill="#a8adb5"/>
<circle cx="610.2" cy="89.5" r="3.1" fill="#86444c"/>
<circle cx="611.0" cy="92.7" r="2.1" fill="#8c7d86"/>
<circle cx="609.2" cy="94.4" r="2.1" fill="#878b94"/>
<circle cx="608.2" cy="95.5" r="2.5" fill="#878b94"/>
<circle cx="606.3" cy="94.1" r="2.3" fill="#8c7d86"/>
<circle cx="610.1" cy="94.4" r="2.3" fill="#9aa0a8"/>
<circle cx="607.5" cy="95.8" r="2.4" fill="#bcc0c8"/>
<circle cx="611.8" cy="92.2" r="2.7" fill="#bcc0c8"/>
<circle cx="610.0" cy="92.4" r="3.0" fill="#bcc0c8"/>
<circle cx="607.5" cy="94.0" r="2.7" fill="#bcc0c8"/>
<circle cx="600.1" cy="89.5" r="2.1" fill="#94848d"/>
<circle cx="606.0" cy="88.7" r="2.1" fill="#94848d"/>
<circle cx="602.7" cy="94.9" r="3.3" fill="#bcc0c8"/>
<circle cx="602.7" cy="87.9" r="2.8" fill="#987078"/>
<circle cx="601.4" cy="92.3" r="3.1" fill="#94848d"/>
<circle cx="599.2" cy="88.2" r="2.6" fill="#86444c"/>
<circle cx="599.7" cy="92.9" r="2.5" fill="#76808a"/>
<circle cx="601.2" cy="89.8" r="2.5" fill="#987078"/>
<circle cx="599.2" cy="95.8" r="2.9" fill="#878b94"/>
<circle cx="601.4" cy="92.1" r="2.9" fill="#86444c"/>
<circle cx="592.8" cy="92.0" r="3.1" fill="#8c7d86"/>
<circle cx="593.3" cy="88.4" r="2.6" fill="#987078"/>
<circle cx="589.5" cy="91.5" r="3.1" fill="#8c7d86"/>
<circle cx="594.8" cy="86.1" r="2.4" fill="#905a64"/>
<circle cx="593.8" cy="92.4" r="2.1" fill="#9aa0a8"/>
<circle cx="586.8" cy="88.7" r="3.2" fill="#8c7d86"/>
<circle cx="592.6" cy="94.7" r="3.3" fill="#9aa0a8"/>
<circle cx="592.3" cy="87.9" r="2.4" fill="#94848d"/>
<circle cx="591.2" cy="87.7" r="2.1" fill="#878b94"/>
<circle cx="588.9" cy="88.3" r="3.1" fill="#9aa0a8"/>
<circle cx="581.1" cy="87.1" r="2.9" fill="#9aa0a8"/>
<circle cx="587.3" cy="85.1" r="2.6" fill="#878b94"/>
<circle cx="584.8" cy="86.9" r="2.9" fill="#878b94"/>
<circle cx="581.4" cy="82.7" r="3.2" fill="#878b94"/>
<circle cx="582.1" cy="86.5" r="3.1" fill="#a8adb5"/>
<circle cx="579.2" cy="85.4" r="2.1" fill="#878b94"/>
<circle cx="582.9" cy="85.0" r="3.3" fill="#bcc0c8"/>
<circle cx="580.3" cy="89.6" r="2.2" fill="#a8adb5"/>
<circle cx="586.9" cy="84.3" r="2.2" fill="#7e8891"/>
<circle cx="587.0" cy="84.8" r="3.1" fill="#905a64"/>
<circle cx="581.3" cy="79.5" r="3.0" fill="#878b94"/>
<circle cx="584.5" cy="85.3" r="2.0" fill="#878b94"/>
<circle cx="577.0" cy="81.3" r="3.1" fill="#7e8891"/>
<circle cx="582.2" cy="78.8" r="2.6" fill="#bcc0c8"/>
<circle cx="581.7" cy="82.9" r="2.6" fill="#7e8891"/>
<circle cx="582.3" cy="78.8" r="2.2" fill="#905a64"/>
<circle cx="579.0" cy="83.0" r="3.2" fill="#94848d"/>
<circle cx="582.3" cy="79.1" r="2.1" fill="#86444c"/>
<circle cx="579.6" cy="80.6" r="2.2" fill="#878b94"/>
<circle cx="580.8" cy="83.5" r="2.8" fill="#9aa0a8"/>
<circle cx="576.8" cy="73.3" r="2.3" fill="#86444c"/>
<circle cx="580.1" cy="75.7" r="2.1" fill="#86444c"/>
<circle cx="575.5" cy="71.4" r="2.5" fill="#bcc0c8"/>
<circle cx="579.2" cy="76.7" r="2.0" fill="#a8adb5"/>
<circle cx="578.0" cy="72.5" r="3.1" fill="#7e8891"/>
<circle cx="573.8" cy="73.5" r="2.1" fill="#94848d"/>
<circle cx="580.5" cy="79.0" r="2.7" fill="#94848d"/>
<circle cx="582.2" cy="74.5" r="3.2" fill="#8c7d86"/>
<circle cx="580.6" cy="71.2" r="2.5" fill="#878b94"/>
<circle cx="576.0" cy="71.3" r="2.5" fill="#8c7d86"/>
<circle cx="572.3" cy="71.3" r="2.3" fill="#bcc0c8"/>
<circle cx="572.5" cy="70.3" r="3.0" fill="#a8adb5"/>
<circle cx="575.6" cy="65.6" r="2.8" fill="#a8adb5"/>
<circle cx="572.3" cy="70.7" r="2.5" fill="#9aa0a8"/>
<circle cx="576.3" cy="71.5" r="3.2" fill="#7e8891"/>
<circle cx="567.8" cy="69.4" r="2.3" fill="#94848d"/>
<circle cx="569.5" cy="68.2" r="2.5" fill="#bcc0c8"/>
<circle cx="570.2" cy="64.9" r="2.9" fill="#878b94"/>
<circle cx="573.2" cy="70.3" r="3.0" fill="#94848d"/>
<circle cx="569.4" cy="65.1" r="3.1" fill="#86444c"/>
<circle cx="577.4" cy="58.2" r="2.0" fill="#a8adb5"/>
<circle cx="577.8" cy="61.3" r="3.0" fill="#8c7d86"/>
<circle cx="574.6" cy="55.6" r="2.2" fill="#878b94"/>
<circle cx="572.7" cy="60.0" r="2.8" fill="#878b94"/>
<circle cx="580.0" cy="58.2" r="2.6" fill="#8c7d86"/>
<circle cx="577.5" cy="60.9" r="2.9" fill="#878b94"/>
<circle cx="575.9" cy="61.5" r="2.6" fill="#987078"/>
<circle cx="575.8" cy="59.2" r="2.6" fill="#8c7d86"/>
<circle cx="578.8" cy="61.8" r="3.0" fill="#a8adb5"/>
<circle cx="578.4" cy="60.7" r="2.6" fill="#94848d"/>
<circle cx="585.2" cy="53.9" r="2.1" fill="#905a64"/>
<circle cx="579.9" cy="47.2" r="3.0" fill="#905a64"/>
<circle cx="578.6" cy="51.5" r="2.8" fill="#bcc0c8"/>
<circle cx="579.5" cy="50.5" r="2.9" fill="#86444c"/>
<circle cx="578.0" cy="54.0" r="3.2" fill="#bcc0c8"/>
<circle cx="580.9" cy="47.8" r="2.2" fill="#878b94"/>
<circle cx="580.0" cy="53.3" r="2.1" fill="#7e8891"/>
<circle cx="585.4" cy="51.8" r="2.0" fill="#8c7d86"/>
<circle cx="579.7" cy="52.3" r="2.6" fill="#bcc0c8"/>
<circle cx="586.2" cy="49.4" r="2.8" fill="#94848d"/>
<circle cx="587.2" cy="45.4" r="2.8" fill="#8c7d86"/>
<circle cx="588.2" cy="43.5" r="3.0" fill="#878b94"/>
<circle cx="591.1" cy="49.4" r="3.1" fill="#7e8891"/>
<circle cx="588.8" cy="46.7" r="2.1" fill="#987078"/>
<circle cx="585.0" cy="41.7" r="2.4" fill="#8c7d86"/>
<circle cx="586.5" cy="43.4" r="2.1" fill="#9aa0a8"/>
<circle cx="585.4" cy="41.6" r="2.2" fill="#9aa0a8"/>
<circle cx="585.6" cy="42.5" r="2.7" fill="#94848d"/>
<circle cx="589.2" cy="42.6" r="2.2" fill="#8c7d86"/>
<circle cx="589.8" cy="46.3" r="2.1" fill="#86444c"/>
<circle cx="588.4" cy="41.2" r="3.0" fill="#bcc0c8"/>
<circle cx="592.4" cy="44.6" r="2.5" fill="#a8adb5"/>
<circle cx="593.3" cy="43.5" r="3.1" fill="#76808a"/>
<circle cx="586.5" cy="41.8" r="3.2" fill="#7e8891"/>
<circle cx="593.3" cy="41.7" r="2.0" fill="#94848d"/>
<circle cx="586.9" cy="45.9" r="3.0" fill="#8c7d86"/>
<circle cx="588.5" cy="44.7" r="2.4" fill="#a8adb5"/>
<circle cx="592.1" cy="43.2" r="2.5" fill="#7e8891"/>
<circle cx="588.8" cy="38.5" r="2.8" fill="#987078"/>
<circle cx="589.1" cy="44.4" r="3.0" fill="#9aa0a8"/>
<circle cx="597.0" cy="42.7" r="3.2" fill="#878b94"/>
<circle cx="598.0" cy="44.4" r="2.6" fill="#8c7d86"/>
<circle cx="595.6" cy="45.3" r="2.3" fill="#a8adb5"/>
<circle cx="601.1" cy="37.2" r="2.8" fill="#878b94"/>
<circle cx="597.6" cy="38.4" r="3.2" fill="#76808a"/>
<circle cx="599.1" cy="38.2" r="2.3" fill="#9aa0a8"/>
<circle cx="602.3" cy="39.7" r="2.9" fill="#86444c"/>
<circle cx="602.1" cy="45.3" r="2.3" fill="#a8adb5"/>
<circle cx="599.3" cy="40.1" r="2.4" fill="#878b94"/>
<circle cx="602.6" cy="38.4" r="2.5" fill="#9aa0a8"/>
<circle cx="610.7" cy="36.1" r="2.9" fill="#7e8891"/>
<circle cx="609.4" cy="41.3" r="2.1" fill="#878b94"/>
<circle cx="605.5" cy="43.6" r="2.4" fill="#76808a"/>
<circle cx="610.5" cy="41.7" r="2.9" fill="#878b94"/>
<circle cx="608.8" cy="37.2" r="2.3" fill="#7e8891"/>
<circle cx="612.0" cy="41.6" r="2.3" fill="#94848d"/>
<circle cx="611.0" cy="42.7" r="3.1" fill="#86444c"/>
<circle cx="607.7" cy="41.0" r="2.7" fill="#9aa0a8"/>
<circle cx="609.1" cy="38.6" r="2.9" fill="#905a64"/>
<circle cx="610.1" cy="39.4" r="2.1" fill="#8c7d86"/>
<circle cx="611.2" cy="48.4" r="2.1" fill="#94848d"/>
<circle cx="610.1" cy="43.3" r="2.8" fill="#94848d"/>
<circle cx="611.2" cy="48.0" r="2.5" fill="#76808a"/>
<circle cx="615.6" cy="46.6" r="2.4" fill="#878b94"/>
<circle cx="613.4" cy="49.0" r="3.3" fill="#905a64"/>
<circle cx="611.3" cy="49.7" r="3.1" fill="#905a64"/>
<circle cx="614.7" cy="42.9" r="2.4" fill="#94848d"/>
<circle cx="610.3" cy="47.3" r="3.1" fill="#905a64"/>
<circle cx="614.2" cy="43.1" r="3.3" fill="#878b94"/>
<circle cx="608.7" cy="44.7" r="2.3" fill="#878b94"/>
<circle cx="615.5" cy="52.7" r="2.3" fill="#9aa0a8"/>
<circle cx="620.1" cy="52.1" r="2.2" fill="#7e8891"/>
<circle cx="614.4" cy="48.2" r="3.0" fill="#76808a"/>
<circle cx="614.9" cy="48.6" r="2.5" fill="#7e8891"/>
<circle cx="619.6" cy="49.3" r="3.2" fill="#878b94"/>
<circle cx="614.8" cy="49.5" r="2.4" fill="#76808a"/>
<circle cx="619.4" cy="48.3" r="3.2" fill="#878b94"/>
<circle cx="621.1" cy="54.7" r="2.6" fill="#8c7d86"/>
<circle cx="620.9" cy="48.3" r="2.9" fill="#987078"/>
<circle cx="621.3" cy="54.4" r="3.2" fill="#94848d"/>
<circle cx="628.7" cy="63.8" r="3.1" fill="#94848d"/>
<circle cx="626.2" cy="55.7" r="3.0" fill="#905a64"/>
<circle cx="625.3" cy="62.0" r="2.0" fill="#94848d"/>
<circle cx="628.4" cy="64.3" r="3.2" fill="#94848d"/>
<circle cx="625.8" cy="58.8" r="2.8" fill="#76808a"/>
<circle cx="627.7" cy="59.9" r="2.3" fill="#878b94"/>
<circle cx="623.4" cy="62.3" r="2.3" fill="#94848d"/>
<circle cx="628.9" cy="56.9" r="3.2" fill="#94848d"/>
<circle cx="623.5" cy="57.9" r="2.5" fill="#bcc0c8"/>
<circle cx="627.3" cy="58.9" r="2.7" fill="#94848d"/>
<circle cx="600" cy="66" r="21.5" fill="#a4b4ba"/>
<circle cx="596" cy="62" r="12" fill="#b2c0c5" opacity="0.7"/>
<circle cx="586.1" cy="49.0" r="2.0" fill="#86444c"/>
<circle cx="587.3" cy="49.0" r="2.2" fill="#94848d"/>
<circle cx="586.8" cy="48.0" r="2.0" fill="#987078"/>
<circle cx="586.5" cy="50.7" r="2.1" fill="#905a64"/>
<circle cx="584.5" cy="47.2" r="2.0" fill="#9aa0a8"/>
<circle cx="583.9" cy="50.5" r="1.7" fill="#7e8891"/>
<circle cx="580.9" cy="68.1" r="1.5" fill="#878b94"/>
<circle cx="583.1" cy="68.9" r="1.5" fill="#905a64"/>
<circle cx="582.6" cy="65.5" r="2.5" fill="#9aa0a8"/>
<circle cx="583.4" cy="68.2" r="2.0" fill="#7e8891"/>
<circle cx="583.9" cy="66.5" r="1.9" fill="#76808a"/>
<circle cx="585.2" cy="70.2" r="1.8" fill="#878b94"/>
<circle cx="591.7" cy="50.4" r="1.8" fill="#86444c"/>
<circle cx="596.9" cy="52.6" r="1.7" fill="#8c7d86"/>
<circle cx="595.4" cy="53.8" r="1.9" fill="#878b94"/>
<circle cx="596.0" cy="50.1" r="2.1" fill="#905a64"/>
<circle cx="593.8" cy="50.7" r="1.9" fill="#878b94"/>
<circle cx="593.2" cy="49.7" r="2.4" fill="#9aa0a8"/>
<circle cx="617.4" cy="75.3" r="2.0" fill="#a8adb5"/>
<circle cx="615.5" cy="78.6" r="2.1" fill="#94848d"/>
<circle cx="612.1" cy="74.6" r="2.1" fill="#878b94"/>
<circle cx="615.5" cy="75.3" r="1.8" fill="#905a64"/>
<circle cx="614.7" cy="74.6" r="1.6" fill="#9aa0a8"/>
<circle cx="617.5" cy="76.6" r="2.1" fill="#9aa0a8"/>
<circle cx="580.5" cy="79.9" r="1.6" fill="#bcc0c8"/>
<circle cx="583.4" cy="76.4" r="2.5" fill="#878b94"/>
<circle cx="579.1" cy="78.1" r="2.1" fill="#bcc0c8"/>
<circle cx="580.8" cy="80.2" r="1.7" fill="#7e8891"/>
<circle cx="582.8" cy="78.2" r="2.2" fill="#bcc0c8"/>
<circle cx="581.9" cy="76.7" r="2.0" fill="#94848d"/>
<circle cx="596.0" cy="74.1" r="2.3" fill="#7e8891"/>
<circle cx="595.4" cy="73.9" r="1.5" fill="#86444c"/>
<circle cx="597.5" cy="70.5" r="2.3" fill="#8c7d86"/>
<circle cx="597.1" cy="71.7" r="1.7" fill="#878b94"/>
<circle cx="598.4" cy="72.8" r="2.3" fill="#8c7d86"/>
<circle cx="598.3" cy="72.5" r="1.8" fill="#7e8891"/>
<circle cx="606.9" cy="80.6" r="1.7" fill="#987078"/>
<circle cx="602.4" cy="79.9" r="2.5" fill="#94848d"/>
<circle cx="606.2" cy="81.5" r="2.4" fill="#987078"/>
<circle cx="604.1" cy="81.1" r="1.9" fill="#76808a"/>
<circle cx="603.6" cy="77.6" r="2.3" fill="#9aa0a8"/>
<circle cx="603.3" cy="80.6" r="1.5" fill="#a8adb5"/>
<circle cx="591.1" cy="53.9" r="1.9" fill="#bcc0c8"/>
<circle cx="589.9" cy="51.6" r="2.3" fill="#76808a"/>
<circle cx="591.0" cy="55.1" r="2.4" fill="#86444c"/>
<circle cx="587.8" cy="52.1" r="1.7" fill="#86444c"/>
<circle cx="585.5" cy="54.7" r="1.6" fill="#a8adb5"/>
<circle cx="588.9" cy="54.4" r="2.2" fill="#878b94"/>
<circle cx="613.4" cy="77.4" r="2.4" fill="#7e8891"/>
<circle cx="613.9" cy="76.6" r="2.3" fill="#86444c"/>
<circle cx="613.9" cy="77.3" r="1.9" fill="#878b94"/>
<circle cx="610.6" cy="75.3" r="2.1" fill="#878b94"/>
<circle cx="608.5" cy="77.8" r="1.4" fill="#987078"/>
<circle cx="611.7" cy="76.0" r="1.7" fill="#8c7d86"/>
<circle cx="577.9" cy="72.6" r="2.3" fill="#94848d"/>
<circle cx="577.8" cy="72.0" r="1.7" fill="#8c7d86"/>
<circle cx="577.7" cy="73.3" r="2.4" fill="#878b94"/>
<circle cx="577.7" cy="69.1" r="2.3" fill="#76808a"/>
<circle cx="581.2" cy="68.9" r="1.4" fill="#94848d"/>
<circle cx="579.0" cy="71.7" r="2.3" fill="#7e8891"/>
<circle cx="585.6" cy="66.3" r="1.5" fill="#94848d"/>
<circle cx="587.2" cy="62.9" r="2.0" fill="#a8adb5"/>
<circle cx="584.0" cy="61.8" r="1.9" fill="#94848d"/>
<circle cx="586.6" cy="63.2" r="2.0" fill="#878b94"/>
<circle cx="585.9" cy="63.7" r="1.7" fill="#94848d"/>
<circle cx="583.6" cy="62.4" r="1.4" fill="#94848d"/>
<circle cx="614.8" cy="57.6" r="2.3" fill="#86444c"/>
<circle cx="617.6" cy="58.9" r="1.7" fill="#9aa0a8"/>
<circle cx="612.7" cy="55.9" r="1.9" fill="#905a64"/>
<circle cx="613.8" cy="56.1" r="1.6" fill="#878b94"/>
<circle cx="613.1" cy="58.9" r="1.8" fill="#bcc0c8"/>
<circle cx="612.2" cy="58.5" r="1.7" fill="#905a64"/>
<circle cx="587.9" cy="53.6" r="1.7" fill="#9aa0a8"/>
<circle cx="588.7" cy="54.2" r="1.5" fill="#878b94"/>
<circle cx="590.2" cy="50.7" r="2.1" fill="#987078"/>
<circle cx="590.5" cy="50.6" r="2.5" fill="#76808a"/>
<circle cx="588.0" cy="53.6" r="1.6" fill="#bcc0c8"/>
<circle cx="588.7" cy="51.8" r="1.5" fill="#bcc0c8"/>
<circle cx="613.7" cy="66.6" r="1.7" fill="#878b94"/>
<circle cx="613.7" cy="62.8" r="2.3" fill="#9aa0a8"/>
<circle cx="612.5" cy="63.0" r="2.2" fill="#a8adb5"/>
<circle cx="614.7" cy="66.9" r="2.3" fill="#a8adb5"/>
<circle cx="616.3" cy="63.9" r="2.3" fill="#bcc0c8"/>
<circle cx="613.2" cy="64.6" r="1.7" fill="#878b94"/>
<circle cx="581.2" cy="64.6" r="2.4" fill="#7e8891"/>
<circle cx="581.6" cy="67.5" r="1.7" fill="#987078"/>
<circle cx="581.3" cy="66.0" r="1.6" fill="#905a64"/>
<circle cx="582.4" cy="69.0" r="2.0" fill="#7e8891"/>
<circle cx="580.9" cy="65.9" r="2.0" fill="#a8adb5"/>
<circle cx="582.6" cy="64.2" r="2.1" fill="#878b94"/>
<circle cx="589.9" cy="78.0" r="2.2" fill="#8c7d86"/>
<circle cx="585.5" cy="74.3" r="2.2" fill="#76808a"/>
<circle cx="585.5" cy="76.7" r="1.8" fill="#878b94"/>
<circle cx="586.3" cy="75.7" r="2.0" fill="#7e8891"/>
<circle cx="590.5" cy="76.0" r="2.1" fill="#9aa0a8"/>
<circle cx="588.0" cy="75.6" r="2.0" fill="#9aa0a8"/>
<circle cx="607.0" cy="45.6" r="2.1" fill="#a8adb5"/>
<circle cx="601.8" cy="43.3" r="2.3" fill="#94848d"/>
<circle cx="605.6" cy="47.3" r="2.0" fill="#905a64"/>
<circle cx="602.1" cy="44.3" r="1.8" fill="#8c7d86"/>
<circle cx="604.6" cy="46.8" r="2.0" fill="#76808a"/>
<circle cx="602.9" cy="46.0" r="1.9" fill="#878b94"/>
<circle cx="615.8" cy="81.6" r="1.5" fill="#94848d"/>
<circle cx="616.3" cy="82.1" r="1.8" fill="#94848d"/>
<circle cx="615.2" cy="79.4" r="2.3" fill="#905a64"/>
<circle cx="613.4" cy="80.4" r="1.9" fill="#94848d"/>
<circle cx="617.1" cy="81.0" r="2.3" fill="#9aa0a8"/>
<circle cx="614.1" cy="84.6" r="1.4" fill="#8c7d86"/>
<circle cx="595.7" cy="55.1" r="1.8" fill="#9aa0a8"/>
<circle cx="595.9" cy="55.6" r="2.2" fill="#9aa0a8"/>
<circle cx="596.6" cy="58.2" r="2.3" fill="#bcc0c8"/>
<circle cx="594.5" cy="57.1" r="2.0" fill="#9aa0a8"/>
<circle cx="594.0" cy="59.2" r="1.5" fill="#94848d"/>
<circle cx="595.5" cy="56.6" r="1.7" fill="#7e8891"/>
<circle cx="613.3" cy="72.0" r="1.8" fill="#987078"/>
<circle cx="611.4" cy="74.2" r="1.6" fill="#7e8891"/>
<circle cx="610.6" cy="72.8" r="1.4" fill="#905a64"/>
<circle cx="614.5" cy="70.8" r="1.8" fill="#76808a"/>
<circle cx="613.0" cy="73.1" r="2.4" fill="#7e8891"/>
<circle cx="614.9" cy="74.2" r="1.5" fill="#7e8891"/>
<circle cx="586.4" cy="73.3" r="2.4" fill="#7e8891"/>
<circle cx="589.2" cy="71.5" r="1.7" fill="#86444c"/>
<circle cx="587.7" cy="72.0" r="1.5" fill="#878b94"/>
<circle cx="587.5" cy="71.5" r="2.4" fill="#987078"/>
<circle cx="588.2" cy="71.1" r="1.8" fill="#bcc0c8"/>
<circle cx="587.4" cy="73.4" r="1.5" fill="#86444c"/>
<circle cx="594.8" cy="84.4" r="2.2" fill="#94848d"/>
<circle cx="595.7" cy="90.0" r="2.4" fill="#9aa0a8"/>
<circle cx="592.7" cy="90.3" r="2.4" fill="#bcc0c8"/>
<circle cx="593.2" cy="87.1" r="2.5" fill="#987078"/>
<circle cx="594.8" cy="86.0" r="2.4" fill="#9aa0a8"/>
<circle cx="594.9" cy="85.2" r="2.5" fill="#a8adb5"/>
<circle cx="602.6" cy="56.3" r="2.4" fill="#7e8891"/>
<circle cx="603.6" cy="58.3" r="1.9" fill="#94848d"/>
<circle cx="603.0" cy="55.4" r="1.8" fill="#86444c"/>
<circle cx="605.8" cy="56.7" r="2.3" fill="#94848d"/>
<circle cx="604.9" cy="54.3" r="1.8" fill="#878b94"/>
<circle cx="600.5" cy="57.0" r="2.0" fill="#9aa0a8"/>
<circle cx="618.6" cy="68.4" r="1.7" fill="#878b94"/>
<circle cx="620.8" cy="70.0" r="1.6" fill="#86444c"/>
<circle cx="622.3" cy="67.4" r="1.7" fill="#76808a"/>
<circle cx="621.8" cy="64.2" r="1.4" fill="#7e8891"/>
<circle cx="621.6" cy="69.5" r="1.9" fill="#a8adb5"/>
<circle cx="618.1" cy="67.3" r="1.5" fill="#a8adb5"/>
<circle cx="589.9" cy="86.9" r="1.8" fill="#94848d"/>
<circle cx="587.6" cy="82.8" r="1.5" fill="#94848d"/>
<circle cx="587.4" cy="87.0" r="1.9" fill="#878b94"/>
<circle cx="592.9" cy="88.2" r="1.8" fill="#76808a"/>
<circle cx="589.6" cy="85.3" r="2.4" fill="#9aa0a8"/>
<circle cx="588.1" cy="88.4" r="1.5" fill="#86444c"/>
<circle cx="580.1" cy="60.8" r="1.8" fill="#86444c"/>
<circle cx="583.9" cy="59.5" r="1.5" fill="#86444c"/>
<circle cx="584.0" cy="61.7" r="2.4" fill="#86444c"/>
<circle cx="581.5" cy="63.4" r="2.3" fill="#7e8891"/>
<circle cx="580.4" cy="62.6" r="1.9" fill="#878b94"/>
<circle cx="585.5" cy="59.4" r="1.6" fill="#94848d"/>
<circle cx="614.9" cy="74.3" r="2.1" fill="#878b94"/>
<circle cx="615.0" cy="73.8" r="2.2" fill="#7e8891"/>
<circle cx="615.0" cy="75.1" r="2.2" fill="#94848d"/>
<circle cx="613.7" cy="78.8" r="1.7" fill="#8c7d86"/>
<circle cx="612.4" cy="75.1" r="2.4" fill="#878b94"/>
<circle cx="612.7" cy="76.4" r="1.9" fill="#8c7d86"/>
<circle cx="586.0" cy="58.3" r="2.3" fill="#878b94"/>
<circle cx="588.2" cy="58.7" r="2.4" fill="#94848d"/>
<circle cx="589.7" cy="54.8" r="1.9" fill="#94848d"/>
<circle cx="589.6" cy="56.5" r="2.4" fill="#7e8891"/>
<circle cx="585.6" cy="56.7" r="2.0" fill="#a8adb5"/>
<circle cx="586.5" cy="55.6" r="2.0" fill="#bcc0c8"/>
<circle cx="618.6" cy="82.7" r="1.7" fill="#905a64"/>
<circle cx="616.1" cy="80.3" r="2.3" fill="#878b94"/>
<circle cx="613.2" cy="78.6" r="2.3" fill="#878b94"/>
<circle cx="617.6" cy="80.4" r="1.5" fill="#94848d"/>
<circle cx="615.9" cy="81.7" r="2.3" fill="#76808a"/>
<circle cx="614.2" cy="78.4" r="1.5" fill="#bcc0c8"/>
<circle cx="595.1" cy="88.2" r="1.8" fill="#a8adb5"/>
<circle cx="594.4" cy="84.7" r="2.3" fill="#9aa0a8"/>
<circle cx="590.1" cy="84.4" r="2.1" fill="#a8adb5"/>
<circle cx="590.2" cy="84.8" r="1.7" fill="#8c7d86"/>
<circle cx="594.9" cy="83.7" r="1.9" fill="#9aa0a8"/>
<circle cx="593.1" cy="85.0" r="1.6" fill="#a8adb5"/>
<circle cx="609.3" cy="70.9" r="1.9" fill="#878b94"/>
<circle cx="606.3" cy="72.2" r="1.7" fill="#8c7d86"/>
<circle cx="605.8" cy="71.9" r="1.5" fill="#987078"/>
<circle cx="611.3" cy="67.2" r="2.3" fill="#878b94"/>
<circle cx="610.2" cy="69.7" r="1.6" fill="#bcc0c8"/>
<circle cx="610.3" cy="68.6" r="2.4" fill="#905a64"/>
<circle cx="606.3" cy="64.0" r="2.5" fill="#905a64"/>
<circle cx="606.1" cy="69.8" r="1.6" fill="#7e8891"/>
<circle cx="607.9" cy="64.9" r="1.9" fill="#8c7d86"/>
<circle cx="606.5" cy="68.5" r="2.2" fill="#a8adb5"/>
<circle cx="606.3" cy="66.7" r="2.4" fill="#94848d"/>
<circle cx="604.1" cy="68.0" r="2.4" fill="#94848d"/>
<circle cx="581.2" cy="53.7" r="1.5" fill="#905a64"/>
<circle cx="581.1" cy="57.0" r="1.5" fill="#878b94"/>
<circle cx="584.4" cy="58.5" r="2.2" fill="#7e8891"/>
<circle cx="585.5" cy="59.1" r="2.4" fill="#94848d"/>
<circle cx="581.3" cy="58.5" r="1.8" fill="#7e8891"/>
<circle cx="581.6" cy="54.4" r="2.2" fill="#94848d"/>
<circle cx="581.6" cy="57.3" r="1.5" fill="#878b94"/>
<circle cx="578.7" cy="57.7" r="2.3" fill="#a8adb5"/>
<circle cx="581.3" cy="54.4" r="2.1" fill="#76808a"/>
<circle cx="580.4" cy="55.5" r="2.3" fill="#878b94"/>
<circle cx="578.9" cy="55.8" r="2.2" fill="#7e8891"/>
<circle cx="579.0" cy="56.7" r="2.2" fill="#9aa0a8"/>
</g>
<text x="527" y="124.5" font-size="13" font-weight="bold" text-anchor="start" >PS-COOH with cy5</text>
<text x="527" y="139.5" font-size="13" font-weight="bold" text-anchor="start" >labelled Protein corona</text>
<path d="M702.5 27.85H734.0V24.1L746.5 30.6L734.0 37.1V33.35H702.5Z" fill="#000"/>
<text x="753" y="35.2" font-size="13" font-weight="bold" text-anchor="start" >SDS-PAGE, LC-MS</text>
<path d="M702.5 60.25H734.0V56.5L746.5 63L734.0 69.5V65.75H702.5Z" fill="#000"/>
<text x="753" y="67.6" font-size="13" font-weight="bold" text-anchor="start" >Flow Cytometry</text>
<path d="M702.5 92.85H734.0V89.1L746.5 95.6L734.0 102.1V98.35H702.5Z" fill="#000"/>
<text x="753" y="100.19999999999999" font-size="13" font-weight="bold" text-anchor="start" >cLSM, TEM, CLEM</text>
<text x="2" y="178.8" font-size="21" font-weight="bold" text-anchor="start" >b</text>
<text x="0" y="211.9" font-size="8.6" font-weight="bold" text-anchor="start" >kDa</text>
<text x="98.3" y="180" font-size="11" font-weight="bold" text-anchor="middle" >Source</text>
<text x="206.8" y="180" font-size="11" font-weight="bold" text-anchor="middle" >Corona</text>
<rect x="73.69999999999999" y="189.3" width="49.2" height="2.2" fill="#000"/>
<rect x="182.20000000000002" y="189.3" width="49.2" height="2.2" fill="#000"/>
<text x="71.2" y="210" font-size="12.4" font-weight="bold" text-anchor="start" >MP</text>
<text x="105" y="210" font-size="12.4" font-weight="bold" text-anchor="start" >MP*</text>
<text x="178.7" y="210" font-size="12.4" font-weight="bold" text-anchor="start" >MP</text>
<text x="213.2" y="210" font-size="12.4" font-weight="bold" text-anchor="start" >MP*</text>
<text x="16.4" y="239.89999999999998" font-size="8.8" font-weight="bold" text-anchor="end" >198</text>
<rect x="18.5" y="235.95" width="5" height="1.5" fill="#000"/>
<text x="16.4" y="259.0" font-size="8.8" font-weight="bold" text-anchor="end" >98</text>
<rect x="18.5" y="255.05" width="5" height="1.5" fill="#000"/>
<text x="16.4" y="279.59999999999997" font-size="8.8" font-weight="bold" text-anchor="end" >62</text>
<rect x="18.5" y="275.65" width="5" height="1.5" fill="#000"/>
<text x="16.4" y="295.5" font-size="8.8" font-weight="bold" text-anchor="end" >49</text>
<rect x="18.5" y="291.55" width="5" height="1.5" fill="#000"/>
<text x="16.4" y="320.59999999999997" font-size="8.8" font-weight="bold" text-anchor="end" >38</text>
<rect x="18.5" y="316.65" width="5" height="1.5" fill="#000"/>
<text x="16.4" y="359.5" font-size="8.8" font-weight="bold" text-anchor="end" >28</text>
<rect x="18.5" y="355.55" width="5" height="1.5" fill="#000"/>
<text x="16.4" y="387.2" font-size="8.8" font-weight="bold" text-anchor="end" >17</text>
<rect x="18.5" y="383.25" width="5" height="1.5" fill="#000"/>
<text x="16.4" y="415.5" font-size="8.8" font-weight="bold" text-anchor="end" >14</text>
<rect x="18.5" y="411.55" width="5" height="1.5" fill="#000"/>
<text x="16.4" y="461.0" font-size="8.8" font-weight="bold" text-anchor="end" >6</text>
<rect x="18.5" y="457.05" width="5" height="1.5" fill="#000"/>
<text x="16.4" y="496.2" font-size="8.8" font-weight="bold" text-anchor="end" >3</text>
<rect x="18.5" y="492.25" width="5" height="1.5" fill="#000"/>
<g clip-path="url(#clipb)">
<rect x="23.5" y="218" width="220.5" height="299.5" fill="url(#gelbg)"/>
<rect x="27.4" y="218" width="27.7" height="31.5" fill="#a8905e" opacity="1" filter="url(#gb)"/>
<rect x="27.4" y="223" width="27.7" height="10.0" fill="#84724a" opacity="0.95" filter="url(#gb)"/>
<rect x="27.4" y="233.6" width="27.7" height="5.6" fill="#5a4628" opacity="0.95" filter="url(#gb)"/>
<rect x="27.4" y="240" width="27.7" height="6.0" fill="#98824e" opacity="0.8" filter="url(#gb)"/>
<rect x="28.4" y="253" width="24.7" height="6.2" fill="#f4c070" opacity="0.95" filter="url(#gb)"/>
<rect x="44.5" y="271.3" width="11.5" height="3.1" fill="#463612" opacity="1" filter="url(#gbs)"/>
<rect x="53" y="268.5" width="3.5" height="4.5" fill="#5a4a20" opacity="0.9" filter="url(#gbs)"/>
<rect x="28.4" y="275.5" width="25.7" height="4.0" fill="#bcc8c6" opacity="1" filter="url(#gb)"/>
<rect x="27.4" y="291.5" width="27.7" height="6.0" fill="#96968a" opacity="1" filter="url(#glad)"/>
<rect x="27.4" y="314.5" width="27.7" height="10.0" fill="#888a80" opacity="1" filter="url(#glad)"/>
<rect x="27.4" y="351" width="27.7" height="11.0" fill="#8a8874" opacity="1" filter="url(#glad)"/>
<rect x="28.4" y="380" width="25.7" height="10.5" fill="#8e6a3a" opacity="1" filter="url(#glad)"/>
<rect x="27.4" y="410.5" width="27.7" height="6.5" fill="#d0c49e" opacity="1" filter="url(#glad)"/>
<rect x="27.4" y="453" width="27.7" height="10.5" fill="#c8bd98" opacity="1" filter="url(#glad)"/>
<rect x="29.4" y="491.5" width="19.7" height="5.0" fill="#d6cba5" opacity="1" filter="url(#glad)"/>
<rect x="135.7" y="218" width="28.6" height="33.0" fill="#b8a678" opacity="1" filter="url(#gb)"/>
<rect x="135.7" y="225" width="28.6" height="8.0" fill="#a4925e" opacity="0.8" filter="url(#gb)"/>
<rect x="135.7" y="234.3" width="28.6" height="5.3" fill="#645236" opacity="0.92" filter="url(#gb)"/>
<rect x="135.7" y="241" width="28.6" height="8.0" fill="#a8966a" opacity="0.6" filter="url(#gb)"/>
<rect x="136.7" y="254.8" width="26.6" height="4.8" fill="#f4b866" opacity="0.95" filter="url(#gb)"/>
<rect x="136.7" y="277.5" width="26.6" height="4.0" fill="#bcc8c6" opacity="1" filter="url(#gb)"/>
<rect x="135.7" y="293.5" width="28.6" height="6.0" fill="#96968a" opacity="1" filter="url(#glad)"/>
<rect x="135.7" y="318.5" width="28.6" height="8.0" fill="#888a80" opacity="1" filter="url(#glad)"/>
<rect x="135.7" y="355" width="28.6" height="10.5" fill="#8e8c78" opacity="1" filter="url(#glad)"/>
<rect x="136.7" y="382.5" width="27.6" height="11.0" fill="#8a683c" opacity="1" filter="url(#glad)"/>
<rect x="135.7" y="412.5" width="28.6" height="7.5" fill="#d0c49e" opacity="1" filter="url(#glad)"/>
<rect x="135.7" y="457" width="28.6" height="9.0" fill="#c8bd98" opacity="1" filter="url(#glad)"/>
<rect x="140.7" y="494.5" width="19.6" height="6.0" fill="#d6cba5" opacity="1" filter="url(#glad)"/>
<rect x="63.3" y="218" width="28.6" height="79.0" fill="url(#lg1)" filter="url(#glane)"/>
<rect x="60.5" y="267.5" width="34.2" height="12.3" rx="5" fill="#1a0a08" filter="url(#gbs)"/>
<rect x="61.8" y="284.3" width="31.6" height="5.6" rx="2.5" fill="#2c1408" filter="url(#gbs)"/>
<rect x="64.3" y="304" width="26.6" height="5.0" fill="#c6b68e" opacity="1" filter="url(#gb)"/>
<rect x="64.3" y="356" width="26.6" height="3.6" fill="#bea676" opacity="1" filter="url(#gb)"/>
<rect x="99.2" y="218" width="28.6" height="80.5" fill="url(#lg2)" filter="url(#glane)"/>
<rect x="96.60000000000001" y="266.5" width="33.8" height="14.1" rx="5.5" fill="#160806" filter="url(#gbs)"/>
<rect x="97.7" y="284.3" width="31.6" height="6.4" rx="2.5" fill="#201008" filter="url(#gbs)"/>
<rect x="100.2" y="302" width="26.6" height="12.5" fill="#9c7a4a" opacity="0.9" filter="url(#gb)"/>
<rect x="100.2" y="303.5" width="26.6" height="3.5" fill="#7c5a30" opacity="0.8" filter="url(#gb)"/>
<rect x="102.2" y="325" width="22.6" height="2.0" fill="#d6c69e" opacity="1" filter="url(#gb)"/>
<rect x="102.2" y="343" width="22.6" height="3.0" fill="#d4c49c" opacity="1" filter="url(#gb)"/>
<rect x="100.2" y="355.3" width="26.6" height="6.2" fill="#a07a42" opacity="1" filter="url(#gb)"/>
<rect x="106.2" y="425" width="20.6" height="4.0" fill="#dccfa8" opacity="1" filter="url(#gb)"/>
<rect x="172.8" y="218" width="27.5" height="79.0" fill="url(#lg4)" filter="url(#glane)"/>
<rect x="172.8" y="298" width="27.5" height="64.0" fill="#dccba2" opacity="0.55" filter="url(#gb)"/>
<rect x="172.8" y="305" width="27.5" height="3.0" fill="#d6c69e" opacity="1" filter="url(#gb)"/>
<rect x="172.8" y="317" width="27.5" height="14.0" fill="#a47c4a" opacity="0.95" filter="url(#gb)"/>
<rect x="172.8" y="323" width="27.5" height="6.5" fill="#8c6236" opacity="0.9" filter="url(#gb)"/>
<rect x="172.8" y="341.5" width="27.5" height="3.2" fill="#c6ae7e" opacity="1" filter="url(#gb)"/>
<rect x="172.8" y="349" width="27.5" height="4.0" fill="#bea676" opacity="1" filter="url(#gb)"/>
<rect x="172.8" y="356" width="27.5" height="4.0" fill="#b69666" opacity="1" filter="url(#gb)"/>
<rect x="172.8" y="429" width="29.5" height="9.0" fill="#b89868" opacity="1" filter="url(#gb)"/>
<rect x="172.8" y="439.5" width="29.5" height="7.0" fill="#c8b080" opacity="1" filter="url(#gb)"/>
<rect x="208.4" y="218" width="27.8" height="78.0" fill="url(#lg5)" filter="url(#glane)"/>
<rect x="208.4" y="298" width="27.8" height="64.0" fill="#e0d0aa" opacity="0.5" filter="url(#gb)"/>
<rect x="208.4" y="321" width="27.8" height="6.6" fill="#c6ae86" opacity="1" filter="url(#gb)"/>
<rect x="208.4" y="336" width="27.8" height="10.0" fill="#d8caa8" opacity="1" filter="url(#gb)"/>
<rect x="208.4" y="357" width="27.8" height="2.5" fill="#cebe96" opacity="1" filter="url(#gb)"/>
<rect x="208.4" y="429" width="29.8" height="6.0" fill="#c8b080" opacity="1" filter="url(#gb)"/>
<rect x="208.4" y="439.5" width="29.8" height="5.5" fill="#d2be96" opacity="1" filter="url(#gb)"/>
</g>
<path d="M22.8 217H245.8V520H22.8Z M24.4 219V517H243.6V219Z" fill="#0a0806" fill-rule="evenodd"/>
<text x="261.5" y="178.8" font-size="21" font-weight="bold" text-anchor="start" >c</text>
<text x="257.2" y="211.9" font-size="8.6" font-weight="bold" text-anchor="start" >kDa</text>
<text x="362.3" y="180" font-size="11" font-weight="bold" text-anchor="middle" >Source</text>
<text x="469.8" y="180" font-size="11" font-weight="bold" text-anchor="middle" >Corona</text>
<rect x="337.7" y="189.3" width="49.2" height="2.2" fill="#000"/>
<rect x="445.2" y="189.3" width="49.2" height="2.2" fill="#000"/>
<text x="334" y="210" font-size="12.4" font-weight="bold" text-anchor="start" >MP</text>
<text x="368.3" y="210" font-size="12.4" font-weight="bold" text-anchor="start" >MP*</text>
<text x="443.7" y="210" font-size="12.4" font-weight="bold" text-anchor="start" >MP</text>
<text x="476.2" y="210" font-size="12.4" font-weight="bold" text-anchor="start" >MP*</text>
<text x="273.2" y="239.89999999999998" font-size="8.8" font-weight="bold" text-anchor="end" >198</text>
<rect x="275.5" y="235.95" width="5.7" height="1.5" fill="#000"/>
<text x="273.2" y="259.0" font-size="8.8" font-weight="bold" text-anchor="end" >98</text>
<rect x="275.5" y="255.05" width="5.7" height="1.5" fill="#000"/>
<text x="273.2" y="279.59999999999997" font-size="8.8" font-weight="bold" text-anchor="end" >62</text>
<rect x="275.5" y="275.65" width="5.7" height="1.5" fill="#000"/>
<text x="273.2" y="295.5" font-size="8.8" font-weight="bold" text-anchor="end" >49</text>
<rect x="275.5" y="291.55" width="5.7" height="1.5" fill="#000"/>
<text x="273.2" y="320.59999999999997" font-size="8.8" font-weight="bold" text-anchor="end" >38</text>
<rect x="275.5" y="316.65" width="5.7" height="1.5" fill="#000"/>
<text x="273.2" y="359.5" font-size="8.8" font-weight="bold" text-anchor="end" >28</text>
<rect x="275.5" y="355.55" width="5.7" height="1.5" fill="#000"/>
<text x="273.2" y="387.2" font-size="8.8" font-weight="bold" text-anchor="end" >17</text>
<rect x="275.5" y="383.25" width="5.7" height="1.5" fill="#000"/>
<text x="273.2" y="415.5" font-size="8.8" font-weight="bold" text-anchor="end" >14</text>
<rect x="275.5" y="411.55" width="5.7" height="1.5" fill="#000"/>
<text x="273.2" y="461.0" font-size="8.8" font-weight="bold" text-anchor="end" >6</text>
<rect x="275.5" y="457.05" width="5.7" height="1.5" fill="#000"/>
<text x="273.2" y="496.2" font-size="8.8" font-weight="bold" text-anchor="end" >3</text>
<rect x="275.5" y="492.25" width="5.7" height="1.5" fill="#000"/>
<g clip-path="url(#clipc)">
<rect x="281" y="219" width="238.70000000000005" height="298.79999999999995" fill="url(#gelcbg)"/>
<rect x="281" y="219" width="238.70000000000005" height="298.79999999999995" fill="#808080" filter="url(#noise)"/>
<rect x="290.5" y="252.8" width="25.3" height="4.2" fill="#262626" opacity="0.9" filter="url(#gb)"/>
<rect x="399" y="252.2" width="29.5" height="4.1" fill="#262626" opacity="0.9" filter="url(#gb)"/>
<rect x="290" y="316" width="26.0" height="3.0" fill="#444444" opacity="0.35" filter="url(#gb)"/>
<rect x="401" y="318" width="27.0" height="4.0" fill="#444444" opacity="0.35" filter="url(#gb)"/>
<rect x="290" y="273" width="26.0" height="3.0" fill="#454545" opacity="0.3" filter="url(#gb)"/>
<circle cx="344" cy="447.7" r="1.4" fill="#d0d0d0" filter="url(#sp)"/>
<circle cx="459.6" cy="312" r="1.2" fill="#d0d0d0" filter="url(#sp)"/>
<circle cx="435" cy="329" r="1" fill="#d0d0d0" filter="url(#sp)"/>
<circle cx="441" cy="329" r="1" fill="#d0d0d0" filter="url(#sp)"/>
<circle cx="453.5" cy="336.5" r="1" fill="#d0d0d0" filter="url(#sp)"/>
<circle cx="456.5" cy="333.5" r="1" fill="#d0d0d0" filter="url(#sp)"/>
<circle cx="452" cy="347.5" r="1" fill="#d0d0d0" filter="url(#sp)"/>
<circle cx="464" cy="355" r="1" fill="#d0d0d0" filter="url(#sp)"/>
<circle cx="382.5" cy="372.5" r="0.9" fill="#d0d0d0" filter="url(#sp)"/>
<circle cx="410" cy="410.3" r="1.0" fill="#d0d0d0" filter="url(#sp)"/>
<circle cx="425.6" cy="437.8" r="1.0" fill="#d0d0d0" filter="url(#sp)"/>
<circle cx="425.6" cy="443.6" r="1.3" fill="#d0d0d0" filter="url(#sp)"/>
<circle cx="322" cy="413.5" r="0.8" fill="#d0d0d0" filter="url(#sp)"/>
<circle cx="286" cy="423" r="0.8" fill="#d0d0d0" filter="url(#sp)"/>
<circle cx="489" cy="291" r="0.8" fill="#d0d0d0" filter="url(#sp)"/>
<g filter="url(#gbr)">
<path d="M363.4 219H391.6L391.8 262L392.5 290L392 314Q391 316.5 388 316L366 316.5Q363 316 363 312L363 290L362.6 262Z" fill="url(#lane2a)"/>
<path d="M363.4 219H391.6L391.8 262L392.5 290L392 314Q391 316.5 388 316L366 316.5Q363 316 363 312L363 290L362.6 262Z" fill="url(#vig)"/>
<rect x="361.5" y="325" width="34.5" height="34.2" rx="5" fill="url(#lane2b)"/>
<rect x="361.5" y="325" width="34.5" height="34.2" rx="5" fill="url(#vig)"/>
<path d="M363.3 461Q363.5 453 372 452.4L390 452.4Q397.5 453 397.9 461L397.6 465Q397 467.3 393 467.3L368 467.3Q364 467.3 363.5 465Z" fill="#840000"/>
<circle cx="375" cy="433.2" r="1.4" fill="#800000"/>
</g>
<rect x="359.4" y="266.2" width="35.6" height="12.6" rx="5.5" fill="#ff7a00" filter="url(#gbs)"/>
<rect x="361" y="267.6" width="32.4" height="9.6" rx="4.5" fill="#ffff10" filter="url(#gbs)"/>
<path d="M395.5 268.5L399.5 269.5L402 272L406 272.6L401.5 273.4L398.5 271.6L395.5 272Z" fill="#860000" filter="url(#sp)"/>
<g filter="url(#gbr)">
<path d="M475.2 226H502.3L503 262L504.5 300L506.5 330L507.5 350L505 372L504 375.5L476.5 375.5L474.5 360L472 340L473 310L474.2 262Z" fill="url(#lane4a)"/>
<path d="M475.2 226H502.3L503 262L504.5 300L506.5 330L507.5 350L505 372L504 375.5L476.5 375.5L474.5 360L472 340L473 310L474.2 262Z" fill="url(#vig)" opacity="0.8"/>
<rect x="479.6" y="390.8" width="23.8" height="5" fill="#8c0000"/>
<path d="M483 414L501 413.5L503 421L512 427L513.8 436L513.5 470L515 495L518.5 513L513 511Q495 494 476 512L472.5 513L474.5 492L471.5 470L470.4 436L472 428L481 421Z" fill="url(#lane4b)"/>
<path d="M483 414L501 413.5L503 421L512 427L513.8 436L513.5 470L515 495L518.5 513L513 511Q495 494 476 512L472.5 513L474.5 492L471.5 470L470.4 436L472 428L481 421Z" fill="url(#vig)" opacity="0.8"/>
</g>
<rect x="471.5" y="428.8" width="41.5" height="8.6" rx="4" fill="#ff2a00" filter="url(#gbs)"/>
<rect x="476" y="431.2" width="32" height="3.6" rx="1.8" fill="#ff8a20" filter="url(#gbs)"/>
</g>
<text x="542.5" y="179.8" font-size="21" font-weight="bold" text-anchor="start" >d</text>
<text x="630.8" y="220.6" font-size="12.6" font-weight="bold" text-anchor="middle" >MP</text>
<text x="769.2" y="220.6" font-size="12.6" font-weight="bold" text-anchor="middle" >MP*</text>
<text x="0" y="0" font-size="12.6" font-weight="bold" text-anchor="middle" transform="translate(553.2 302.9) rotate(-90)">Source</text>
<text x="0" y="0" font-size="12.6" font-weight="bold" text-anchor="middle" transform="translate(553.2 428.8) rotate(-90)">Corona</text>
<path d="M632.7 300.9L632.70 238.60A62.3 62.3 0 0 1 636.50 238.72Z" fill="#ffcc66"/>
<path d="M632.7 300.9L636.23 238.70A62.3 62.3 0 0 1 639.86 239.01Z" fill="#ffff33"/>
<path d="M632.7 300.9L639.59 238.98A62.3 62.3 0 0 1 655.63 242.97Z" fill="#800000"/>
<path d="M632.7 300.9L655.38 242.88A62.3 62.3 0 0 1 670.63 251.47Z" fill="#1b8046"/>
<path d="M632.7 300.9L670.41 251.31A62.3 62.3 0 0 1 683.04 264.19Z" fill="#3f7f0a"/>
<path d="M632.7 300.9L682.88 263.97A62.3 62.3 0 0 1 694.36 292.01Z" fill="#158080"/>
<path d="M632.7 300.9L694.32 291.75A62.3 62.3 0 0 1 695.00 300.90Z" fill="#ff66cc"/>
<path d="M632.7 300.9L695.00 300.63A62.3 62.3 0 0 1 688.45 328.70Z" fill="#20ffff"/>
<path d="M632.7 300.9L688.58 328.45A62.3 62.3 0 0 1 570.55 305.25Z" fill="#0000ff"/>
<path d="M632.7 300.9L570.57 305.52A62.3 62.3 0 0 1 632.70 238.60Z" fill="#d3d3d3"/>
<circle cx="632.7" cy="300.9" r="62.3" fill="none" stroke="#111" stroke-width="1.3"/>
<path d="M767 300.9L767.00 238.60A62.3 62.3 0 0 1 768.96 238.63Z" fill="#ffcc66"/>
<path d="M767 300.9L768.69 238.62A62.3 62.3 0 0 1 780.38 240.05Z" fill="#800000"/>
<path d="M767 300.9L780.11 240.00A62.3 62.3 0 0 1 798.71 247.28Z" fill="#1b8046"/>
<path d="M767 300.9L798.48 247.14A62.3 62.3 0 0 1 811.81 257.62Z" fill="#3f7f0a"/>
<path d="M767 300.9L811.63 257.43A62.3 62.3 0 0 1 813.52 259.46Z" fill="#158080"/>
<path d="M767 300.9L813.33 259.25A62.3 62.3 0 0 1 821.85 271.36Z" fill="#ff66cc"/>
<path d="M767 300.9L821.72 271.13A62.3 62.3 0 0 1 828.20 289.23Z" fill="#20ffff"/>
<path d="M767 300.9L828.14 288.96A62.3 62.3 0 0 1 706.06 313.85Z" fill="#0000ff"/>
<path d="M767 300.9L706.12 314.12A62.3 62.3 0 0 1 767.00 238.60Z" fill="#d3d3d3"/>
<circle cx="767" cy="300.9" r="62.3" fill="none" stroke="#111" stroke-width="1.3"/>
<path d="M632.7 434.8L632.70 372.70A62.099999999999994 62.099999999999994 0 0 1 647.83 374.57Z" fill="#ffcc66"/>
<path d="M632.7 434.8L647.57 374.51A62.099999999999994 62.099999999999994 0 0 1 662.52 380.33Z" fill="#ffff33"/>
<path d="M632.7 434.8L662.28 380.20A62.099999999999994 62.099999999999994 0 0 1 691.89 416.02Z" fill="#ff0000"/>
<path d="M632.7 434.8L691.81 415.76A62.099999999999994 62.099999999999994 0 0 1 687.33 464.34Z" fill="#803c00"/>
<path d="M632.7 434.8L687.45 464.10A62.099999999999994 62.099999999999994 0 0 1 660.89 490.13Z" fill="#ff6666"/>
<path d="M632.7 434.8L661.13 490.01A62.099999999999994 62.099999999999994 0 0 1 655.16 492.70Z" fill="#800000"/>
<path d="M632.7 434.8L655.41 492.60A62.099999999999994 62.099999999999994 0 0 1 632.16 496.90Z" fill="#3f7f0a"/>
<path d="M632.7 434.8L632.43 496.90A62.099999999999994 62.099999999999994 0 0 1 593.62 483.06Z" fill="#158080"/>
<path d="M632.7 434.8L593.83 483.23A62.099999999999994 62.099999999999994 0 0 1 590.51 480.36Z" fill="#86c0ff"/>
<path d="M632.7 434.8L590.71 480.55A62.099999999999994 62.099999999999994 0 0 1 584.10 473.46Z" fill="#0000ff"/>
<path d="M632.7 434.8L584.27 473.67A62.099999999999994 62.099999999999994 0 0 1 632.70 372.70Z" fill="#d3d3d3"/>
<circle cx="632.7" cy="434.8" r="62.099999999999994" fill="none" stroke="#111" stroke-width="1.3"/>
<path d="M766.9 434.8L766.90 372.70A62.099999999999994 62.099999999999994 0 0 1 797.57 380.80Z" fill="#ffcc66"/>
<path d="M766.9 434.8L797.34 380.67A62.099999999999994 62.099999999999994 0 0 1 823.41 409.05Z" fill="#ffff33"/>
<path d="M766.9 434.8L823.30 408.80A62.099999999999994 62.099999999999994 0 0 1 827.57 421.57Z" fill="#ff0000"/>
<path d="M766.9 434.8L827.52 421.31A62.099999999999994 62.099999999999994 0 0 1 828.88 438.70Z" fill="#803c00"/>
<path d="M766.9 434.8L828.89 438.43A62.099999999999994 62.099999999999994 0 0 1 826.71 451.50Z" fill="#ff6666"/>
<path d="M766.9 434.8L826.78 451.24A62.099999999999994 62.099999999999994 0 0 1 825.72 454.71Z" fill="#800000"/>
<path d="M766.9 434.8L825.81 454.45A62.099999999999994 62.099999999999994 0 0 1 806.82 482.37Z" fill="#3f7f0a"/>
<path d="M766.9 434.8L807.02 482.20A62.099999999999994 62.099999999999994 0 0 1 785.06 494.19Z" fill="#158080"/>
<path d="M766.9 434.8L785.32 494.11A62.099999999999994 62.099999999999994 0 0 1 781.92 495.06Z" fill="#ff66cc"/>
<path d="M766.9 434.8L782.19 494.99A62.099999999999994 62.099999999999994 0 0 1 778.43 495.82Z" fill="#86c0ff"/>
<path d="M766.9 434.8L778.70 495.77A62.099999999999994 62.099999999999994 0 0 1 753.14 495.36Z" fill="#0000ff"/>
<path d="M766.9 434.8L753.41 495.42A62.099999999999994 62.099999999999994 0 0 1 766.90 372.70Z" fill="#d3d3d3"/>
<circle cx="766.9" cy="434.8" r="62.099999999999994" fill="none" stroke="#111" stroke-width="1.3"/>
<rect x="854.3" y="275.60" width="14.4" height="7.2" fill="#ffcc66" stroke="#111" stroke-width="1"/>
<text x="875.8" y="282.50" font-size="10" font-weight="normal" text-anchor="start" >Apolipoprotein A-I</text>
<rect x="854.3" y="290.00" width="14.4" height="7.2" fill="#ffff33" stroke="#111" stroke-width="1"/>
<text x="875.8" y="296.90" font-size="10" font-weight="normal" text-anchor="start" >Beta-2-glycoprotein 1</text>
<rect x="854.3" y="305.10" width="14.4" height="7.2" fill="#ff0000" stroke="#111" stroke-width="1"/>
<text x="875.8" y="312.00" font-size="10" font-weight="normal" text-anchor="start" >Complement C1q subunit A</text>
<rect x="854.3" y="320.10" width="14.4" height="7.2" fill="#803c00" stroke="#111" stroke-width="1"/>
<text x="875.8" y="327.00" font-size="10" font-weight="normal" text-anchor="start" >Complement C1q subunit B</text>
<rect x="854.3" y="335.00" width="14.4" height="7.2" fill="#ff6666" stroke="#111" stroke-width="1"/>
<text x="875.8" y="341.90" font-size="10" font-weight="normal" text-anchor="start" >Complement C1q subunit C</text>
<rect x="854.3" y="349.80" width="14.4" height="7.2" fill="#800000" stroke="#111" stroke-width="1"/>
<text x="875.8" y="356.70" font-size="10" font-weight="normal" text-anchor="start" >Hemopexin</text>
<rect x="854.3" y="362.90" width="14.4" height="7.2" fill="#1b8046" stroke="#111" stroke-width="1"/>
<text x="875.8" y="369.80" font-size="10" font-weight="normal" text-anchor="start" >Ig gamma-2A</text>
<rect x="854.3" y="376.70" width="14.4" height="7.2" fill="#3f7f0a" stroke="#111" stroke-width="1"/>
<text x="875.8" y="383.60" font-size="10" font-weight="normal" text-anchor="start" >Ig gamma-2B</text>
<rect x="854.3" y="391.50" width="14.4" height="7.2" fill="#158080" stroke="#111" stroke-width="1"/>
<text x="875.8" y="398.40" font-size="10" font-weight="normal" text-anchor="start" >Immunoglobulin kappa</text>
<rect x="854.3" y="406.70" width="14.4" height="7.2" fill="#ff66cc" stroke="#111" stroke-width="1"/>
<text x="875.8" y="413.60" font-size="10" font-weight="normal" text-anchor="start" >Pregnancy zone protein</text>
<rect x="854.3" y="421.90" width="14.4" height="7.2" fill="#20ffff" stroke="#111" stroke-width="1"/>
<text x="875.8" y="428.80" font-size="10" font-weight="normal" text-anchor="start" >Serotransferrin</text>
<rect x="854.3" y="436.90" width="14.4" height="7.2" fill="#0000ff" stroke="#111" stroke-width="1"/>
<text x="875.8" y="443.80" font-size="10" font-weight="normal" text-anchor="start" >Serum albumin</text>
<rect x="854.3" y="451.90" width="14.4" height="7.2" fill="#d3d3d3" stroke="#111" stroke-width="1"/>
<text x="875.8" y="458.80" font-size="10" font-weight="normal" text-anchor="start" >Other Proteins</text>
</svg>
</body></html>
